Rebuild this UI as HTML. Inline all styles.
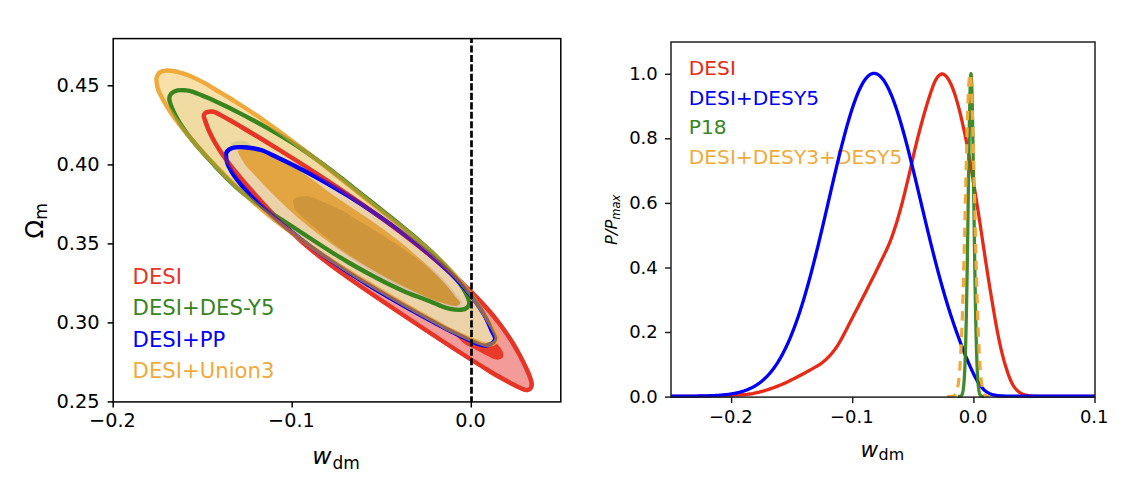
<!DOCTYPE html>
<html><head><meta charset="utf-8"><title>w_dm constraints</title>
<style>html,body{margin:0;padding:0;background:#ffffff}svg{display:block}text{font-family:'DejaVu Sans','Liberation Sans',sans-serif}</style></head><body>
<svg width="1136" height="486" viewBox="0 0 1136 486">
<rect x="0" y="0" width="1136" height="486" fill="#ffffff"/>
<defs><clipPath id="clipL"><rect x="113.2" y="38.6" width="447.6" height="363.3"/></clipPath>
<clipPath id="clipR"><rect x="671.0" y="39.0" width="424.0" height="359.6"/></clipPath></defs>
<g clip-path="url(#clipL)">
<path d="M203.80,116.00C203.86,114.83 204.38,113.72 205.30,113.00C206.22,112.28 207.68,111.82 209.30,111.70C210.92,111.58 211.63,110.92 215.00,112.30C218.37,113.68 224.99,117.47 229.54,120.00C234.08,122.53 238.07,125.00 242.28,127.50C246.50,130.00 250.70,132.50 254.86,135.00C259.02,137.50 263.15,140.00 267.25,142.50C271.35,145.00 275.42,147.50 279.46,150.00C283.49,152.50 287.50,155.00 291.48,157.50C295.46,160.00 299.40,162.50 303.32,165.00C307.23,167.50 311.11,170.00 314.96,172.50C318.81,175.00 322.63,177.50 326.42,180.00C330.20,182.50 333.95,185.00 337.67,187.50C341.39,190.00 345.08,192.50 348.73,195.00C352.39,197.50 356.01,200.00 359.59,202.50C363.18,205.00 366.73,207.50 370.25,210.00C373.77,212.50 377.25,215.00 380.70,217.50C384.15,220.00 387.56,222.50 390.94,225.00C394.32,227.50 397.66,230.00 400.97,232.50C404.28,235.00 407.55,237.50 410.79,240.00C414.02,242.50 417.22,245.00 420.38,247.50C423.54,250.00 426.66,252.50 429.73,255.00C432.81,257.50 435.84,260.00 438.82,262.50C441.80,265.00 444.73,267.50 447.60,270.00C450.48,272.50 453.31,275.00 456.07,277.50C458.83,280.00 461.54,282.50 464.19,285.00C466.83,287.50 469.41,290.00 471.93,292.50C474.44,295.00 476.89,297.50 479.27,300.00C481.64,302.50 483.95,305.00 486.18,307.50C488.41,310.00 490.56,312.50 492.64,315.00C494.71,317.50 496.70,320.00 498.62,322.50C500.54,325.00 502.38,327.50 504.15,330.00C505.92,332.50 507.62,335.00 509.25,337.50C510.88,340.00 512.44,342.50 513.95,345.00C515.45,347.50 516.88,350.00 518.26,352.50C519.64,355.00 520.95,357.50 522.22,360.00C523.48,362.50 524.69,365.00 525.85,367.50C527.01,370.00 528.21,372.42 529.17,375.00C530.13,377.58 531.33,380.83 531.60,383.00C531.87,385.17 531.48,386.83 530.80,388.00C530.12,389.17 529.13,389.95 527.50,390.00C525.87,390.05 526.27,390.80 521.00,388.30C515.73,385.80 502.09,378.47 495.88,375.00C489.66,371.53 487.73,370.00 483.71,367.50C479.70,365.00 475.73,362.50 471.79,360.00C467.84,357.50 463.94,355.00 460.06,352.50C456.17,350.00 452.32,347.50 448.49,345.00C444.65,342.50 440.84,340.00 437.04,337.50C433.24,335.00 429.46,332.50 425.68,330.00C421.90,327.50 418.13,325.00 414.37,322.50C410.61,320.00 406.85,317.50 403.10,315.00C399.35,312.50 395.61,310.00 391.88,307.50C388.14,305.00 384.42,302.50 380.71,300.00C376.99,297.50 373.28,295.00 369.61,292.50C365.93,290.00 362.27,287.50 358.65,285.00C355.03,282.50 351.44,280.00 347.90,277.50C344.37,275.00 340.88,272.50 337.45,270.00C334.03,267.50 330.66,265.00 327.37,262.50C324.09,260.00 320.87,257.50 317.74,255.00C314.61,252.50 311.57,250.00 308.61,247.50C305.64,245.00 302.77,242.50 299.95,240.00C297.14,237.50 294.41,235.00 291.73,232.50C289.05,230.00 286.45,227.50 283.89,225.00C281.33,222.50 278.84,220.00 276.39,217.50C273.93,215.00 271.53,212.50 269.17,210.00C266.80,207.50 264.49,205.00 262.19,202.50C259.90,200.00 257.65,197.50 255.41,195.00C253.18,192.50 250.96,190.00 248.78,187.50C246.60,185.00 244.43,182.50 242.32,180.00C240.20,177.50 238.12,175.00 236.10,172.50C234.07,170.00 232.09,167.50 230.18,165.00C228.27,162.50 226.41,160.00 224.63,157.50C222.86,155.00 221.15,152.50 219.53,150.00C217.92,147.50 216.38,145.00 214.95,142.50C213.51,140.00 212.17,137.50 210.94,135.00C209.71,132.50 208.58,130.00 207.58,127.50C206.58,125.00 205.57,121.92 204.94,120.00C204.31,118.08 203.74,117.17 203.80,116.00Z" fill="#F29B98"/>
<path d="M440.00,300.00C446.67,303.83 461.67,313.67 470.00,320.00C478.33,326.33 485.17,333.67 490.00,338.00C494.83,342.33 496.87,343.67 499.00,346.00C501.13,348.33 502.08,350.25 502.80,352.00C503.52,353.75 503.77,355.28 503.30,356.50C502.83,357.72 501.38,358.83 500.00,359.30C498.62,359.77 497.22,359.93 495.00,359.30C492.78,358.67 490.58,357.47 486.70,355.50C482.82,353.53 475.32,349.38 471.70,347.50C468.08,345.62 467.62,346.12 465.00,344.20C462.38,342.28 460.17,339.70 456.00,336.00C451.83,332.30 445.17,327.17 440.00,322.00C434.83,316.83 426.67,309.17 425.00,305.00C423.33,300.83 427.50,297.83 430.00,297.00C432.50,296.17 433.33,296.17 440.00,300.00Z" fill="#E8392A"/>
<path d="M156.90,84.00C156.60,82.17 156.28,80.50 156.40,79.00C156.52,77.50 156.92,76.17 157.60,75.00C158.28,73.83 159.18,72.73 160.50,72.00C161.82,71.27 163.42,70.77 165.50,70.60C167.58,70.43 170.42,70.63 173.00,71.00C175.58,71.37 178.33,72.05 181.00,72.80C183.67,73.55 186.17,74.37 189.00,75.50C191.83,76.63 195.00,78.12 198.00,79.60C201.00,81.08 203.99,82.67 207.00,84.40C210.01,86.13 212.44,87.82 216.05,90.00C219.67,92.18 224.57,95.00 228.68,97.50C232.79,100.00 236.79,102.50 240.71,105.00C244.63,107.50 248.45,110.00 252.20,112.50C255.95,115.00 259.62,117.50 263.22,120.00C266.83,122.50 270.36,125.00 273.84,127.50C277.32,130.00 280.74,132.50 284.12,135.00C287.50,137.50 290.82,140.00 294.13,142.50C297.43,145.00 300.70,147.50 303.95,150.00C307.20,152.50 310.43,155.00 313.65,157.50C316.86,160.00 320.06,162.50 323.25,165.00C326.44,167.50 329.61,170.00 332.77,172.50C335.94,175.00 339.09,177.50 342.24,180.00C345.39,182.50 348.53,185.00 351.67,187.50C354.81,190.00 357.95,192.50 361.09,195.00C364.23,197.50 367.36,200.00 370.51,202.50C373.65,205.00 376.80,207.50 379.95,210.00C383.10,212.50 386.26,215.00 389.41,217.50C392.56,220.00 395.72,222.50 398.84,225.00C401.96,227.50 405.08,230.00 408.15,232.50C411.22,235.00 414.27,237.50 417.26,240.00C420.25,242.50 423.20,245.00 426.09,247.50C428.97,250.00 431.80,252.50 434.55,255.00C437.30,257.50 439.99,260.00 442.58,262.50C445.17,265.00 447.68,267.50 450.08,270.00C452.49,272.50 454.79,275.00 457.01,277.50C459.22,280.00 461.34,282.50 463.39,285.00C465.45,287.50 467.41,290.00 469.31,292.50C471.22,295.00 473.05,297.50 474.83,300.00C476.62,302.50 478.34,305.00 480.01,307.50C481.68,310.00 483.30,312.50 484.87,315.00C486.44,317.50 487.95,320.00 489.42,322.50C490.89,325.00 492.45,327.50 493.68,330.00C494.91,332.50 496.58,335.45 496.80,337.50C497.02,339.55 496.30,341.08 495.00,342.30C493.70,343.52 491.50,344.68 489.00,344.80C486.50,344.92 486.44,345.47 480.00,343.00C473.56,340.53 457.58,333.42 450.36,330.00C443.13,326.58 441.17,325.00 436.62,322.50C432.08,320.00 427.56,317.50 423.08,315.00C418.60,312.50 414.15,310.00 409.74,307.50C405.32,305.00 400.95,302.50 396.61,300.00C392.28,297.50 387.98,295.00 383.73,292.50C379.48,290.00 375.27,287.50 371.10,285.00C366.94,282.50 362.82,280.00 358.74,277.50C354.67,275.00 350.65,272.50 346.68,270.00C342.70,267.50 338.78,265.00 334.91,262.50C331.04,260.00 327.23,257.50 323.47,255.00C319.71,252.50 316.01,250.00 312.36,247.50C308.72,245.00 305.13,242.50 301.61,240.00C298.09,237.50 294.63,235.00 291.24,232.50C287.84,230.00 284.51,227.50 281.25,225.00C277.98,222.50 274.79,220.00 271.66,217.50C268.54,215.00 265.49,212.50 262.50,210.00C259.52,207.50 256.62,205.00 253.77,202.50C250.92,200.00 248.15,197.50 245.43,195.00C242.70,192.50 240.04,190.00 237.42,187.50C234.80,185.00 232.24,182.50 229.71,180.00C227.18,177.50 224.70,175.00 222.24,172.50C219.78,170.00 217.36,167.50 214.96,165.00C212.55,162.50 210.17,160.00 207.83,157.50C205.49,155.00 203.17,152.50 200.90,150.00C198.63,147.50 196.39,145.00 194.20,142.50C192.02,140.00 189.88,137.50 187.80,135.00C185.72,132.50 183.69,130.00 181.73,127.50C179.77,125.00 177.87,122.50 176.05,120.00C174.23,117.50 172.48,115.00 170.81,112.50C169.15,110.00 167.56,107.50 166.06,105.00C164.57,102.50 163.15,100.00 161.85,97.50C160.54,95.00 159.04,92.25 158.22,90.00C157.39,87.75 157.20,85.83 156.90,84.00Z" fill="#F9DFA8"/>
<path d="M169.30,98.50C169.38,96.58 169.93,94.85 171.30,93.50C172.67,92.15 175.22,90.93 177.50,90.40C179.78,89.87 182.42,90.07 185.00,90.30C187.58,90.53 189.00,90.47 193.00,91.80C197.00,93.13 203.94,96.10 209.00,98.30C214.06,100.50 218.44,102.62 223.38,105.00C228.32,107.38 233.66,110.07 238.63,112.60C243.60,115.13 248.46,117.67 253.19,120.20C257.92,122.73 262.54,125.27 267.03,127.80C271.52,130.33 275.88,132.87 280.12,135.40C284.36,137.93 288.46,140.47 292.44,143.00C296.42,145.53 300.25,148.07 304.00,150.60C307.74,153.13 311.35,155.67 314.90,158.20C318.45,160.73 321.89,163.27 325.28,165.80C328.68,168.33 331.99,170.87 335.27,173.40C338.56,175.93 341.78,178.47 344.99,181.00C348.21,183.53 351.38,186.07 354.58,188.60C357.77,191.13 360.95,193.67 364.15,196.20C367.35,198.73 370.58,201.27 373.79,203.80C377.00,206.33 380.23,208.87 383.43,211.40C386.64,213.93 389.84,216.47 393.00,219.00C396.17,221.53 399.32,224.07 402.41,226.60C405.51,229.13 408.58,231.67 411.59,234.20C414.59,236.73 417.56,239.27 420.45,241.80C423.33,244.33 426.16,246.87 428.90,249.40C431.64,251.93 434.32,254.47 436.89,257.00C439.45,259.53 441.94,262.07 444.31,264.60C446.67,267.13 448.95,269.67 451.09,272.20C453.23,274.73 455.26,277.27 457.15,279.80C459.03,282.33 460.80,284.87 462.41,287.40C464.01,289.93 465.64,292.48 466.79,295.00C467.93,297.52 469.21,300.42 469.30,302.50C469.39,304.58 468.68,306.28 467.30,307.50C465.92,308.72 463.88,309.58 461.00,309.80C458.12,310.02 453.50,309.50 450.00,308.80C446.50,308.10 443.91,307.07 440.00,305.60C436.09,304.13 432.07,302.18 426.51,300.00C420.96,297.82 412.66,295.00 406.67,292.50C400.68,290.00 395.71,287.50 390.57,285.00C385.43,282.50 380.60,280.00 375.82,277.50C371.03,275.00 366.40,272.50 361.88,270.00C357.36,267.50 352.97,265.00 348.69,262.50C344.41,260.00 340.26,257.50 336.20,255.00C332.13,252.50 328.20,250.00 324.29,247.50C320.39,245.00 316.59,242.50 312.77,240.00C308.96,237.50 305.21,235.00 301.40,232.50C297.59,230.00 293.78,227.50 289.92,225.00C286.06,222.50 282.10,220.00 278.22,217.50C274.33,215.00 270.39,212.50 266.62,210.00C262.84,207.50 259.09,205.00 255.57,202.50C252.06,200.00 248.68,197.50 245.52,195.00C242.36,192.50 239.43,190.00 236.60,187.50C233.78,185.00 231.15,182.50 228.58,180.00C226.01,177.50 223.59,175.00 221.18,172.50C218.77,170.00 216.46,167.50 214.14,165.00C211.81,162.50 209.51,160.00 207.24,157.50C204.98,155.00 202.73,152.50 200.55,150.00C198.38,147.50 196.23,145.00 194.17,142.50C192.12,140.00 190.11,137.50 188.21,135.00C186.32,132.50 184.49,130.00 182.79,127.50C181.09,125.00 179.47,122.50 178.01,120.00C176.54,117.50 175.18,115.00 173.98,112.50C172.78,110.00 171.59,107.33 170.81,105.00C170.04,102.67 169.22,100.42 169.30,98.50Z" fill="#F0DCA2"/>
<path d="M226.30,158.50C226.00,156.53 225.70,154.72 226.20,153.20C226.70,151.68 227.83,150.37 229.30,149.40C230.77,148.43 233.13,147.78 235.00,147.40C236.87,147.02 238.50,147.08 240.50,147.10C242.50,147.12 243.57,147.02 247.00,147.50C250.43,147.98 256.01,148.33 261.10,150.00C266.18,151.67 272.20,155.00 277.51,157.50C282.83,160.00 287.96,162.50 292.96,165.00C297.97,167.50 302.81,170.00 307.53,172.50C312.25,175.00 316.83,177.50 321.29,180.00C325.76,182.50 330.10,185.00 334.34,187.50C338.58,190.00 342.70,192.50 346.74,195.00C350.78,197.50 354.72,200.00 358.59,202.50C362.46,205.00 366.24,207.50 369.96,210.00C373.69,212.50 377.34,215.00 380.93,217.50C384.52,220.00 388.05,222.50 391.52,225.00C394.98,227.50 398.38,230.00 401.72,232.50C405.06,235.00 408.34,237.50 411.56,240.00C414.78,242.50 417.94,245.00 421.04,247.50C424.13,250.00 427.16,252.50 430.11,255.00C433.07,257.50 435.95,260.00 438.76,262.50C441.56,265.00 444.30,267.50 446.94,270.00C449.58,272.50 452.15,275.00 454.62,277.50C457.09,280.00 459.48,282.50 461.77,285.00C464.05,287.50 466.25,290.00 468.34,292.50C470.43,295.00 472.43,297.50 474.31,300.00C476.19,302.50 477.98,305.00 479.64,307.50C481.30,310.00 482.86,312.50 484.30,315.00C485.73,317.50 487.05,320.00 488.24,322.50C489.43,325.00 490.31,327.50 491.44,330.00C492.56,332.50 494.66,335.45 495.00,337.50C495.34,339.55 494.67,341.05 493.50,342.30C492.33,343.55 490.42,344.67 488.00,345.00C485.58,345.33 485.59,346.80 479.00,344.30C472.41,341.80 455.90,333.63 448.47,330.00C441.04,326.37 439.05,325.00 434.41,322.50C429.76,320.00 425.16,317.50 420.61,315.00C416.06,312.50 411.56,310.00 407.11,307.50C402.66,305.00 398.25,302.50 393.91,300.00C389.57,297.50 385.27,295.00 381.04,292.50C376.81,290.00 372.64,287.50 368.52,285.00C364.41,282.50 360.36,280.00 356.38,277.50C352.39,275.00 348.47,272.50 344.62,270.00C340.77,267.50 336.98,265.00 333.27,262.50C329.56,260.00 325.92,257.50 322.35,255.00C318.78,252.50 315.29,250.00 311.88,247.50C308.46,245.00 305.12,242.50 301.84,240.00C298.57,237.50 295.37,235.00 292.24,232.50C289.10,230.00 286.04,227.50 283.04,225.00C280.05,222.50 277.12,220.00 274.26,217.50C271.40,215.00 268.60,212.50 265.87,210.00C263.14,207.50 260.46,205.00 257.88,202.50C255.30,200.00 252.79,197.50 250.39,195.00C247.99,192.50 245.67,190.00 243.50,187.50C241.33,185.00 239.26,182.50 237.37,180.00C235.48,177.50 233.71,175.00 232.15,172.50C230.59,170.00 228.98,167.33 228.01,165.00C227.03,162.67 226.60,160.47 226.30,158.50Z" fill="#EBD2A8"/>
<path d="M293.30,203.00C293.01,201.25 292.98,200.47 293.60,199.50C294.22,198.53 295.43,197.70 297.00,197.20C298.57,196.70 300.50,196.45 303.00,196.50C305.50,196.55 305.67,195.25 312.00,197.50C318.33,199.75 334.17,206.71 340.99,210.00C347.82,213.29 348.98,214.83 352.96,217.25C356.95,219.67 360.96,222.08 364.92,224.50C368.88,226.92 372.84,229.33 376.73,231.75C380.61,234.17 384.47,236.58 388.23,239.00C391.99,241.42 395.70,243.83 399.29,246.25C402.88,248.67 406.40,251.08 409.77,253.50C413.14,255.92 416.40,258.33 419.52,260.75C422.63,263.17 425.63,265.58 428.47,268.00C431.31,270.42 434.01,272.83 436.56,275.25C439.10,277.67 441.50,280.08 443.74,282.50C445.97,284.92 448.03,287.33 449.96,289.75C451.90,292.17 453.71,294.91 455.35,297.00C456.99,299.09 459.36,300.97 459.80,302.30C460.24,303.63 459.13,304.45 458.00,305.00C456.87,305.55 457.01,306.43 453.00,305.60C448.99,304.77 439.99,302.18 433.93,300.00C427.86,297.82 422.15,295.00 416.62,292.50C411.10,290.00 405.83,287.50 400.76,285.00C395.70,282.50 390.87,280.00 386.23,277.50C381.58,275.00 377.16,272.50 372.89,270.00C368.63,267.50 364.57,265.00 360.64,262.50C356.72,260.00 352.98,257.50 349.36,255.00C345.74,252.50 342.28,250.00 338.93,247.50C335.57,245.00 332.36,242.50 329.22,240.00C326.09,237.50 323.08,235.00 320.13,232.50C317.18,230.00 314.33,227.50 311.52,225.00C308.72,222.50 305.99,220.00 303.29,217.50C300.59,215.00 296.98,212.42 295.31,210.00C293.65,207.58 293.59,204.75 293.30,203.00Z" fill="#D9BFA5" stroke="#D9BFA5" stroke-width="4"/>
<path d="M238.30,153.00C237.14,150.55 238.05,150.92 238.50,150.30C238.95,149.68 239.75,149.48 241.00,149.30C242.25,149.12 242.17,148.75 246.00,149.20C249.83,149.65 258.21,150.26 263.99,152.00C269.76,153.74 275.60,157.09 280.65,159.63C285.70,162.18 290.08,164.72 294.27,167.26C298.47,169.81 302.16,172.35 305.82,174.89C309.48,177.44 312.81,179.98 316.24,182.53C319.67,185.07 322.94,187.61 326.41,190.16C329.88,192.70 333.40,195.25 337.07,197.79C340.74,200.33 344.62,202.88 348.43,205.42C352.25,207.96 356.16,210.51 359.96,213.05C363.76,215.60 367.55,218.14 371.23,220.68C374.91,223.23 378.53,225.77 382.05,228.32C385.56,230.86 388.98,233.40 392.31,235.95C395.65,238.49 398.88,241.04 402.03,243.58C405.18,246.12 408.24,248.67 411.21,251.21C414.18,253.75 417.07,256.30 419.86,258.84C422.66,261.39 425.37,263.93 427.99,266.47C430.61,269.02 433.15,271.56 435.60,274.11C438.05,276.65 440.42,279.19 442.71,281.74C444.99,284.28 447.19,286.82 449.32,289.37C451.44,291.91 453.69,294.84 455.44,297.00C457.18,299.16 459.37,300.97 459.80,302.30C460.23,303.63 459.13,304.45 458.00,305.00C456.87,305.55 457.10,306.43 453.00,305.60C448.90,304.77 439.43,302.18 433.40,300.00C427.37,297.82 422.18,295.00 416.83,292.50C411.48,290.00 406.30,287.50 401.28,285.00C396.25,282.50 391.40,280.00 386.69,277.50C381.97,275.00 377.42,272.50 373.00,270.00C368.58,267.50 364.31,265.00 360.16,262.50C356.02,260.00 352.01,257.50 348.12,255.00C344.23,252.50 340.47,250.00 336.81,247.50C333.16,245.00 329.63,242.50 326.19,240.00C322.75,237.50 319.43,235.00 316.19,232.50C312.96,230.00 309.82,227.50 306.77,225.00C303.71,222.50 300.75,220.00 297.85,217.50C294.96,215.00 292.15,212.50 289.40,210.00C286.65,207.50 283.98,205.00 281.36,202.50C278.74,200.00 276.19,197.50 273.68,195.00C271.16,192.50 268.71,190.00 266.30,187.50C263.88,185.00 261.51,182.50 259.17,180.00C256.83,177.50 254.53,175.00 252.25,172.50C249.96,170.00 247.80,168.25 245.47,165.00C243.15,161.75 239.46,155.45 238.30,153.00Z" fill="#E3A541"/>
<path d="M293.30,203.00C293.01,201.25 292.98,200.47 293.60,199.50C294.22,198.53 295.43,197.70 297.00,197.20C298.57,196.70 300.50,196.45 303.00,196.50C305.50,196.55 305.67,195.25 312.00,197.50C318.33,199.75 334.17,206.71 340.99,210.00C347.82,213.29 348.98,214.83 352.96,217.25C356.95,219.67 360.96,222.08 364.92,224.50C368.88,226.92 372.84,229.33 376.73,231.75C380.61,234.17 384.47,236.58 388.23,239.00C391.99,241.42 395.70,243.83 399.29,246.25C402.88,248.67 406.40,251.08 409.77,253.50C413.14,255.92 416.40,258.33 419.52,260.75C422.63,263.17 425.63,265.58 428.47,268.00C431.31,270.42 434.01,272.83 436.56,275.25C439.10,277.67 441.50,280.08 443.74,282.50C445.97,284.92 448.03,287.33 449.96,289.75C451.90,292.17 453.71,294.91 455.35,297.00C456.99,299.09 459.36,300.97 459.80,302.30C460.24,303.63 459.13,304.45 458.00,305.00C456.87,305.55 457.01,306.43 453.00,305.60C448.99,304.77 439.99,302.18 433.93,300.00C427.86,297.82 422.15,295.00 416.62,292.50C411.10,290.00 405.83,287.50 400.76,285.00C395.70,282.50 390.87,280.00 386.23,277.50C381.58,275.00 377.16,272.50 372.89,270.00C368.63,267.50 364.57,265.00 360.64,262.50C356.72,260.00 352.98,257.50 349.36,255.00C345.74,252.50 342.28,250.00 338.93,247.50C335.57,245.00 332.36,242.50 329.22,240.00C326.09,237.50 323.08,235.00 320.13,232.50C317.18,230.00 314.33,227.50 311.52,225.00C308.72,222.50 305.99,220.00 303.29,217.50C300.59,215.00 296.98,212.42 295.31,210.00C293.65,207.58 293.59,204.75 293.30,203.00Z" fill="#CF953B"/>
<ellipse cx="240.5" cy="145.0" rx="9.5" ry="4.2" fill="#BFC27E" fill-opacity="0.55"/>
<path d="M203.80,116.00C203.86,114.83 204.38,113.72 205.30,113.00C206.22,112.28 207.68,111.82 209.30,111.70C210.92,111.58 211.63,110.92 215.00,112.30C218.37,113.68 224.99,117.47 229.54,120.00C234.08,122.53 238.07,125.00 242.28,127.50C246.50,130.00 250.70,132.50 254.86,135.00C259.02,137.50 263.15,140.00 267.25,142.50C271.35,145.00 275.42,147.50 279.46,150.00C283.49,152.50 287.50,155.00 291.48,157.50C295.46,160.00 299.40,162.50 303.32,165.00C307.23,167.50 311.11,170.00 314.96,172.50C318.81,175.00 322.63,177.50 326.42,180.00C330.20,182.50 333.95,185.00 337.67,187.50C341.39,190.00 345.08,192.50 348.73,195.00C352.39,197.50 356.01,200.00 359.59,202.50C363.18,205.00 366.73,207.50 370.25,210.00C373.77,212.50 377.25,215.00 380.70,217.50C384.15,220.00 387.56,222.50 390.94,225.00C394.32,227.50 397.66,230.00 400.97,232.50C404.28,235.00 407.55,237.50 410.79,240.00C414.02,242.50 417.22,245.00 420.38,247.50C423.54,250.00 426.66,252.50 429.73,255.00C432.81,257.50 435.84,260.00 438.82,262.50C441.80,265.00 444.73,267.50 447.60,270.00C450.48,272.50 453.31,275.00 456.07,277.50C458.83,280.00 461.54,282.50 464.19,285.00C466.83,287.50 469.41,290.00 471.93,292.50C474.44,295.00 476.89,297.50 479.27,300.00C481.64,302.50 483.95,305.00 486.18,307.50C488.41,310.00 490.56,312.50 492.64,315.00C494.71,317.50 496.70,320.00 498.62,322.50C500.54,325.00 502.38,327.50 504.15,330.00C505.92,332.50 507.62,335.00 509.25,337.50C510.88,340.00 512.44,342.50 513.95,345.00C515.45,347.50 516.88,350.00 518.26,352.50C519.64,355.00 520.95,357.50 522.22,360.00C523.48,362.50 524.69,365.00 525.85,367.50C527.01,370.00 528.21,372.42 529.17,375.00C530.13,377.58 531.33,380.83 531.60,383.00C531.87,385.17 531.48,386.83 530.80,388.00C530.12,389.17 529.13,389.95 527.50,390.00C525.87,390.05 526.27,390.80 521.00,388.30C515.73,385.80 502.09,378.47 495.88,375.00C489.66,371.53 487.73,370.00 483.71,367.50C479.70,365.00 475.73,362.50 471.79,360.00C467.84,357.50 463.94,355.00 460.06,352.50C456.17,350.00 452.32,347.50 448.49,345.00C444.65,342.50 440.84,340.00 437.04,337.50C433.24,335.00 429.46,332.50 425.68,330.00C421.90,327.50 418.13,325.00 414.37,322.50C410.61,320.00 406.85,317.50 403.10,315.00C399.35,312.50 395.61,310.00 391.88,307.50C388.14,305.00 384.42,302.50 380.71,300.00C376.99,297.50 373.28,295.00 369.61,292.50C365.93,290.00 362.27,287.50 358.65,285.00C355.03,282.50 351.44,280.00 347.90,277.50C344.37,275.00 340.88,272.50 337.45,270.00C334.03,267.50 330.66,265.00 327.37,262.50C324.09,260.00 320.87,257.50 317.74,255.00C314.61,252.50 311.57,250.00 308.61,247.50C305.64,245.00 302.77,242.50 299.95,240.00C297.14,237.50 294.41,235.00 291.73,232.50C289.05,230.00 286.45,227.50 283.89,225.00C281.33,222.50 278.84,220.00 276.39,217.50C273.93,215.00 271.53,212.50 269.17,210.00C266.80,207.50 264.49,205.00 262.19,202.50C259.90,200.00 257.65,197.50 255.41,195.00C253.18,192.50 250.96,190.00 248.78,187.50C246.60,185.00 244.43,182.50 242.32,180.00C240.20,177.50 238.12,175.00 236.10,172.50C234.07,170.00 232.09,167.50 230.18,165.00C228.27,162.50 226.41,160.00 224.63,157.50C222.86,155.00 221.15,152.50 219.53,150.00C217.92,147.50 216.38,145.00 214.95,142.50C213.51,140.00 212.17,137.50 210.94,135.00C209.71,132.50 208.58,130.00 207.58,127.50C206.58,125.00 205.57,121.92 204.94,120.00C204.31,118.08 203.74,117.17 203.80,116.00Z" fill="none" stroke="#E63527" stroke-width="4.40" stroke-linejoin="round" stroke-opacity="1.00"/>
<path d="M169.30,98.50C169.38,96.58 169.93,94.85 171.30,93.50C172.67,92.15 175.22,90.93 177.50,90.40C179.78,89.87 182.42,90.07 185.00,90.30C187.58,90.53 189.00,90.47 193.00,91.80C197.00,93.13 203.94,96.10 209.00,98.30C214.06,100.50 218.44,102.62 223.38,105.00C228.32,107.38 233.66,110.07 238.63,112.60C243.60,115.13 248.46,117.67 253.19,120.20C257.92,122.73 262.54,125.27 267.03,127.80C271.52,130.33 275.88,132.87 280.12,135.40C284.36,137.93 288.46,140.47 292.44,143.00C296.42,145.53 300.25,148.07 304.00,150.60C307.74,153.13 311.35,155.67 314.90,158.20C318.45,160.73 321.89,163.27 325.28,165.80C328.68,168.33 331.99,170.87 335.27,173.40C338.56,175.93 341.78,178.47 344.99,181.00C348.21,183.53 351.38,186.07 354.58,188.60C357.77,191.13 360.95,193.67 364.15,196.20C367.35,198.73 370.58,201.27 373.79,203.80C377.00,206.33 380.23,208.87 383.43,211.40C386.64,213.93 389.84,216.47 393.00,219.00C396.17,221.53 399.32,224.07 402.41,226.60C405.51,229.13 408.58,231.67 411.59,234.20C414.59,236.73 417.56,239.27 420.45,241.80C423.33,244.33 426.16,246.87 428.90,249.40C431.64,251.93 434.32,254.47 436.89,257.00C439.45,259.53 441.94,262.07 444.31,264.60C446.67,267.13 448.95,269.67 451.09,272.20C453.23,274.73 455.26,277.27 457.15,279.80C459.03,282.33 460.80,284.87 462.41,287.40C464.01,289.93 465.64,292.48 466.79,295.00C467.93,297.52 469.21,300.42 469.30,302.50C469.39,304.58 468.68,306.28 467.30,307.50C465.92,308.72 463.88,309.58 461.00,309.80C458.12,310.02 453.50,309.50 450.00,308.80C446.50,308.10 443.91,307.07 440.00,305.60C436.09,304.13 432.07,302.18 426.51,300.00C420.96,297.82 412.66,295.00 406.67,292.50C400.68,290.00 395.71,287.50 390.57,285.00C385.43,282.50 380.60,280.00 375.82,277.50C371.03,275.00 366.40,272.50 361.88,270.00C357.36,267.50 352.97,265.00 348.69,262.50C344.41,260.00 340.26,257.50 336.20,255.00C332.13,252.50 328.20,250.00 324.29,247.50C320.39,245.00 316.59,242.50 312.77,240.00C308.96,237.50 305.21,235.00 301.40,232.50C297.59,230.00 293.78,227.50 289.92,225.00C286.06,222.50 282.10,220.00 278.22,217.50C274.33,215.00 270.39,212.50 266.62,210.00C262.84,207.50 259.09,205.00 255.57,202.50C252.06,200.00 248.68,197.50 245.52,195.00C242.36,192.50 239.43,190.00 236.60,187.50C233.78,185.00 231.15,182.50 228.58,180.00C226.01,177.50 223.59,175.00 221.18,172.50C218.77,170.00 216.46,167.50 214.14,165.00C211.81,162.50 209.51,160.00 207.24,157.50C204.98,155.00 202.73,152.50 200.55,150.00C198.38,147.50 196.23,145.00 194.17,142.50C192.12,140.00 190.11,137.50 188.21,135.00C186.32,132.50 184.49,130.00 182.79,127.50C181.09,125.00 179.47,122.50 178.01,120.00C176.54,117.50 175.18,115.00 173.98,112.50C172.78,110.00 171.59,107.33 170.81,105.00C170.04,102.67 169.22,100.42 169.30,98.50Z" fill="none" stroke="#38841F" stroke-width="4.40" stroke-linejoin="round" stroke-opacity="1.00"/>
<path d="M226.30,158.50C226.00,156.53 225.70,154.72 226.20,153.20C226.70,151.68 227.83,150.37 229.30,149.40C230.77,148.43 233.13,147.78 235.00,147.40C236.87,147.02 238.50,147.08 240.50,147.10C242.50,147.12 243.57,147.02 247.00,147.50C250.43,147.98 256.01,148.33 261.10,150.00C266.18,151.67 272.20,155.00 277.51,157.50C282.83,160.00 287.96,162.50 292.96,165.00C297.97,167.50 302.81,170.00 307.53,172.50C312.25,175.00 316.83,177.50 321.29,180.00C325.76,182.50 330.10,185.00 334.34,187.50C338.58,190.00 342.70,192.50 346.74,195.00C350.78,197.50 354.72,200.00 358.59,202.50C362.46,205.00 366.24,207.50 369.96,210.00C373.69,212.50 377.34,215.00 380.93,217.50C384.52,220.00 388.05,222.50 391.52,225.00C394.98,227.50 398.38,230.00 401.72,232.50C405.06,235.00 408.34,237.50 411.56,240.00C414.78,242.50 417.94,245.00 421.04,247.50C424.13,250.00 427.16,252.50 430.11,255.00C433.07,257.50 435.95,260.00 438.76,262.50C441.56,265.00 444.30,267.50 446.94,270.00C449.58,272.50 452.15,275.00 454.62,277.50C457.09,280.00 459.48,282.50 461.77,285.00C464.05,287.50 466.25,290.00 468.34,292.50C470.43,295.00 472.43,297.50 474.31,300.00C476.19,302.50 477.98,305.00 479.64,307.50C481.30,310.00 482.86,312.50 484.30,315.00C485.73,317.50 487.05,320.00 488.24,322.50C489.43,325.00 490.31,327.50 491.44,330.00C492.56,332.50 494.66,335.45 495.00,337.50C495.34,339.55 494.67,341.05 493.50,342.30C492.33,343.55 490.42,344.67 488.00,345.00C485.58,345.33 485.59,346.80 479.00,344.30C472.41,341.80 455.90,333.63 448.47,330.00C441.04,326.37 439.05,325.00 434.41,322.50C429.76,320.00 425.16,317.50 420.61,315.00C416.06,312.50 411.56,310.00 407.11,307.50C402.66,305.00 398.25,302.50 393.91,300.00C389.57,297.50 385.27,295.00 381.04,292.50C376.81,290.00 372.64,287.50 368.52,285.00C364.41,282.50 360.36,280.00 356.38,277.50C352.39,275.00 348.47,272.50 344.62,270.00C340.77,267.50 336.98,265.00 333.27,262.50C329.56,260.00 325.92,257.50 322.35,255.00C318.78,252.50 315.29,250.00 311.88,247.50C308.46,245.00 305.12,242.50 301.84,240.00C298.57,237.50 295.37,235.00 292.24,232.50C289.10,230.00 286.04,227.50 283.04,225.00C280.05,222.50 277.12,220.00 274.26,217.50C271.40,215.00 268.60,212.50 265.87,210.00C263.14,207.50 260.46,205.00 257.88,202.50C255.30,200.00 252.79,197.50 250.39,195.00C247.99,192.50 245.67,190.00 243.50,187.50C241.33,185.00 239.26,182.50 237.37,180.00C235.48,177.50 233.71,175.00 232.15,172.50C230.59,170.00 228.98,167.33 228.01,165.00C227.03,162.67 226.60,160.47 226.30,158.50Z" fill="none" stroke="#0000F8" stroke-width="4.40" stroke-linejoin="round" stroke-opacity="1.00"/>
<path d="M203.80,116.00C203.86,114.83 204.38,113.72 205.30,113.00C206.22,112.28 207.68,111.82 209.30,111.70C210.92,111.58 211.63,110.92 215.00,112.30C218.37,113.68 224.99,117.47 229.54,120.00C234.08,122.53 238.07,125.00 242.28,127.50C246.50,130.00 250.70,132.50 254.86,135.00C259.02,137.50 263.15,140.00 267.25,142.50C271.35,145.00 275.42,147.50 279.46,150.00C283.49,152.50 287.50,155.00 291.48,157.50C295.46,160.00 299.40,162.50 303.32,165.00C307.23,167.50 311.11,170.00 314.96,172.50C318.81,175.00 322.63,177.50 326.42,180.00C330.20,182.50 333.95,185.00 337.67,187.50C341.39,190.00 345.08,192.50 348.73,195.00C352.39,197.50 356.01,200.00 359.59,202.50C363.18,205.00 366.73,207.50 370.25,210.00C373.77,212.50 377.25,215.00 380.70,217.50C384.15,220.00 387.56,222.50 390.94,225.00C394.32,227.50 397.66,230.00 400.97,232.50C404.28,235.00 407.55,237.50 410.79,240.00C414.02,242.50 417.22,245.00 420.38,247.50C423.54,250.00 426.66,252.50 429.73,255.00C432.81,257.50 435.84,260.00 438.82,262.50C441.80,265.00 444.73,267.50 447.60,270.00C450.48,272.50 453.31,275.00 456.07,277.50C458.83,280.00 461.54,282.50 464.19,285.00C466.83,287.50 469.41,290.00 471.93,292.50C474.44,295.00 476.89,297.50 479.27,300.00C481.64,302.50 483.95,305.00 486.18,307.50C488.41,310.00 490.56,312.50 492.64,315.00C494.71,317.50 496.70,320.00 498.62,322.50C500.54,325.00 502.38,327.50 504.15,330.00C505.92,332.50 507.62,335.00 509.25,337.50C510.88,340.00 512.44,342.50 513.95,345.00C515.45,347.50 516.88,350.00 518.26,352.50C519.64,355.00 520.95,357.50 522.22,360.00C523.48,362.50 524.69,365.00 525.85,367.50C527.01,370.00 528.21,372.42 529.17,375.00C530.13,377.58 531.33,380.83 531.60,383.00C531.87,385.17 531.48,386.83 530.80,388.00C530.12,389.17 529.13,389.95 527.50,390.00C525.87,390.05 526.27,390.80 521.00,388.30C515.73,385.80 502.09,378.47 495.88,375.00C489.66,371.53 487.73,370.00 483.71,367.50C479.70,365.00 475.73,362.50 471.79,360.00C467.84,357.50 463.94,355.00 460.06,352.50C456.17,350.00 452.32,347.50 448.49,345.00C444.65,342.50 440.84,340.00 437.04,337.50C433.24,335.00 429.46,332.50 425.68,330.00C421.90,327.50 418.13,325.00 414.37,322.50C410.61,320.00 406.85,317.50 403.10,315.00C399.35,312.50 395.61,310.00 391.88,307.50C388.14,305.00 384.42,302.50 380.71,300.00C376.99,297.50 373.28,295.00 369.61,292.50C365.93,290.00 362.27,287.50 358.65,285.00C355.03,282.50 351.44,280.00 347.90,277.50C344.37,275.00 340.88,272.50 337.45,270.00C334.03,267.50 330.66,265.00 327.37,262.50C324.09,260.00 320.87,257.50 317.74,255.00C314.61,252.50 311.57,250.00 308.61,247.50C305.64,245.00 302.77,242.50 299.95,240.00C297.14,237.50 294.41,235.00 291.73,232.50C289.05,230.00 286.45,227.50 283.89,225.00C281.33,222.50 278.84,220.00 276.39,217.50C273.93,215.00 271.53,212.50 269.17,210.00C266.80,207.50 264.49,205.00 262.19,202.50C259.90,200.00 257.65,197.50 255.41,195.00C253.18,192.50 250.96,190.00 248.78,187.50C246.60,185.00 244.43,182.50 242.32,180.00C240.20,177.50 238.12,175.00 236.10,172.50C234.07,170.00 232.09,167.50 230.18,165.00C228.27,162.50 226.41,160.00 224.63,157.50C222.86,155.00 221.15,152.50 219.53,150.00C217.92,147.50 216.38,145.00 214.95,142.50C213.51,140.00 212.17,137.50 210.94,135.00C209.71,132.50 208.58,130.00 207.58,127.50C206.58,125.00 205.57,121.92 204.94,120.00C204.31,118.08 203.74,117.17 203.80,116.00Z" fill="none" stroke="#E63527" stroke-width="4.40" stroke-linejoin="round" stroke-opacity="0.40"/>
<path d="M156.90,84.00C156.60,82.17 156.28,80.50 156.40,79.00C156.52,77.50 156.92,76.17 157.60,75.00C158.28,73.83 159.18,72.73 160.50,72.00C161.82,71.27 163.42,70.77 165.50,70.60C167.58,70.43 170.42,70.63 173.00,71.00C175.58,71.37 178.33,72.05 181.00,72.80C183.67,73.55 186.17,74.37 189.00,75.50C191.83,76.63 195.00,78.12 198.00,79.60C201.00,81.08 203.99,82.67 207.00,84.40C210.01,86.13 212.44,87.82 216.05,90.00C219.67,92.18 224.57,95.00 228.68,97.50C232.79,100.00 236.79,102.50 240.71,105.00C244.63,107.50 248.45,110.00 252.20,112.50C255.95,115.00 259.62,117.50 263.22,120.00C266.83,122.50 270.36,125.00 273.84,127.50C277.32,130.00 280.74,132.50 284.12,135.00C287.50,137.50 290.82,140.00 294.13,142.50C297.43,145.00 300.70,147.50 303.95,150.00C307.20,152.50 310.43,155.00 313.65,157.50C316.86,160.00 320.06,162.50 323.25,165.00C326.44,167.50 329.61,170.00 332.77,172.50C335.94,175.00 339.09,177.50 342.24,180.00C345.39,182.50 348.53,185.00 351.67,187.50C354.81,190.00 357.95,192.50 361.09,195.00C364.23,197.50 367.36,200.00 370.51,202.50C373.65,205.00 376.80,207.50 379.95,210.00C383.10,212.50 386.26,215.00 389.41,217.50C392.56,220.00 395.72,222.50 398.84,225.00C401.96,227.50 405.08,230.00 408.15,232.50C411.22,235.00 414.27,237.50 417.26,240.00C420.25,242.50 423.20,245.00 426.09,247.50C428.97,250.00 431.80,252.50 434.55,255.00C437.30,257.50 439.99,260.00 442.58,262.50C445.17,265.00 447.68,267.50 450.08,270.00C452.49,272.50 454.79,275.00 457.01,277.50C459.22,280.00 461.34,282.50 463.39,285.00C465.45,287.50 467.41,290.00 469.31,292.50C471.22,295.00 473.05,297.50 474.83,300.00C476.62,302.50 478.34,305.00 480.01,307.50C481.68,310.00 483.30,312.50 484.87,315.00C486.44,317.50 487.95,320.00 489.42,322.50C490.89,325.00 492.45,327.50 493.68,330.00C494.91,332.50 496.58,335.45 496.80,337.50C497.02,339.55 496.30,341.08 495.00,342.30C493.70,343.52 491.50,344.68 489.00,344.80C486.50,344.92 486.44,345.47 480.00,343.00C473.56,340.53 457.58,333.42 450.36,330.00C443.13,326.58 441.17,325.00 436.62,322.50C432.08,320.00 427.56,317.50 423.08,315.00C418.60,312.50 414.15,310.00 409.74,307.50C405.32,305.00 400.95,302.50 396.61,300.00C392.28,297.50 387.98,295.00 383.73,292.50C379.48,290.00 375.27,287.50 371.10,285.00C366.94,282.50 362.82,280.00 358.74,277.50C354.67,275.00 350.65,272.50 346.68,270.00C342.70,267.50 338.78,265.00 334.91,262.50C331.04,260.00 327.23,257.50 323.47,255.00C319.71,252.50 316.01,250.00 312.36,247.50C308.72,245.00 305.13,242.50 301.61,240.00C298.09,237.50 294.63,235.00 291.24,232.50C287.84,230.00 284.51,227.50 281.25,225.00C277.98,222.50 274.79,220.00 271.66,217.50C268.54,215.00 265.49,212.50 262.50,210.00C259.52,207.50 256.62,205.00 253.77,202.50C250.92,200.00 248.15,197.50 245.43,195.00C242.70,192.50 240.04,190.00 237.42,187.50C234.80,185.00 232.24,182.50 229.71,180.00C227.18,177.50 224.70,175.00 222.24,172.50C219.78,170.00 217.36,167.50 214.96,165.00C212.55,162.50 210.17,160.00 207.83,157.50C205.49,155.00 203.17,152.50 200.90,150.00C198.63,147.50 196.39,145.00 194.20,142.50C192.02,140.00 189.88,137.50 187.80,135.00C185.72,132.50 183.69,130.00 181.73,127.50C179.77,125.00 177.87,122.50 176.05,120.00C174.23,117.50 172.48,115.00 170.81,112.50C169.15,110.00 167.56,107.50 166.06,105.00C164.57,102.50 163.15,100.00 161.85,97.50C160.54,95.00 159.04,92.25 158.22,90.00C157.39,87.75 157.20,85.83 156.90,84.00Z" fill="none" stroke="#F0AA3C" stroke-width="4.40" stroke-linejoin="round" stroke-opacity="1.00"/>
<mask id="mO" maskUnits="userSpaceOnUse" x="100" y="30" width="480" height="380"><path d="M156.90,84.00C156.60,82.17 156.28,80.50 156.40,79.00C156.52,77.50 156.92,76.17 157.60,75.00C158.28,73.83 159.18,72.73 160.50,72.00C161.82,71.27 163.42,70.77 165.50,70.60C167.58,70.43 170.42,70.63 173.00,71.00C175.58,71.37 178.33,72.05 181.00,72.80C183.67,73.55 186.17,74.37 189.00,75.50C191.83,76.63 195.00,78.12 198.00,79.60C201.00,81.08 203.99,82.67 207.00,84.40C210.01,86.13 212.44,87.82 216.05,90.00C219.67,92.18 224.57,95.00 228.68,97.50C232.79,100.00 236.79,102.50 240.71,105.00C244.63,107.50 248.45,110.00 252.20,112.50C255.95,115.00 259.62,117.50 263.22,120.00C266.83,122.50 270.36,125.00 273.84,127.50C277.32,130.00 280.74,132.50 284.12,135.00C287.50,137.50 290.82,140.00 294.13,142.50C297.43,145.00 300.70,147.50 303.95,150.00C307.20,152.50 310.43,155.00 313.65,157.50C316.86,160.00 320.06,162.50 323.25,165.00C326.44,167.50 329.61,170.00 332.77,172.50C335.94,175.00 339.09,177.50 342.24,180.00C345.39,182.50 348.53,185.00 351.67,187.50C354.81,190.00 357.95,192.50 361.09,195.00C364.23,197.50 367.36,200.00 370.51,202.50C373.65,205.00 376.80,207.50 379.95,210.00C383.10,212.50 386.26,215.00 389.41,217.50C392.56,220.00 395.72,222.50 398.84,225.00C401.96,227.50 405.08,230.00 408.15,232.50C411.22,235.00 414.27,237.50 417.26,240.00C420.25,242.50 423.20,245.00 426.09,247.50C428.97,250.00 431.80,252.50 434.55,255.00C437.30,257.50 439.99,260.00 442.58,262.50C445.17,265.00 447.68,267.50 450.08,270.00C452.49,272.50 454.79,275.00 457.01,277.50C459.22,280.00 461.34,282.50 463.39,285.00C465.45,287.50 467.41,290.00 469.31,292.50C471.22,295.00 473.05,297.50 474.83,300.00C476.62,302.50 478.34,305.00 480.01,307.50C481.68,310.00 483.30,312.50 484.87,315.00C486.44,317.50 487.95,320.00 489.42,322.50C490.89,325.00 492.45,327.50 493.68,330.00C494.91,332.50 496.58,335.45 496.80,337.50C497.02,339.55 496.30,341.08 495.00,342.30C493.70,343.52 491.50,344.68 489.00,344.80C486.50,344.92 486.44,345.47 480.00,343.00C473.56,340.53 457.58,333.42 450.36,330.00C443.13,326.58 441.17,325.00 436.62,322.50C432.08,320.00 427.56,317.50 423.08,315.00C418.60,312.50 414.15,310.00 409.74,307.50C405.32,305.00 400.95,302.50 396.61,300.00C392.28,297.50 387.98,295.00 383.73,292.50C379.48,290.00 375.27,287.50 371.10,285.00C366.94,282.50 362.82,280.00 358.74,277.50C354.67,275.00 350.65,272.50 346.68,270.00C342.70,267.50 338.78,265.00 334.91,262.50C331.04,260.00 327.23,257.50 323.47,255.00C319.71,252.50 316.01,250.00 312.36,247.50C308.72,245.00 305.13,242.50 301.61,240.00C298.09,237.50 294.63,235.00 291.24,232.50C287.84,230.00 284.51,227.50 281.25,225.00C277.98,222.50 274.79,220.00 271.66,217.50C268.54,215.00 265.49,212.50 262.50,210.00C259.52,207.50 256.62,205.00 253.77,202.50C250.92,200.00 248.15,197.50 245.43,195.00C242.70,192.50 240.04,190.00 237.42,187.50C234.80,185.00 232.24,182.50 229.71,180.00C227.18,177.50 224.70,175.00 222.24,172.50C219.78,170.00 217.36,167.50 214.96,165.00C212.55,162.50 210.17,160.00 207.83,157.50C205.49,155.00 203.17,152.50 200.90,150.00C198.63,147.50 196.39,145.00 194.20,142.50C192.02,140.00 189.88,137.50 187.80,135.00C185.72,132.50 183.69,130.00 181.73,127.50C179.77,125.00 177.87,122.50 176.05,120.00C174.23,117.50 172.48,115.00 170.81,112.50C169.15,110.00 167.56,107.50 166.06,105.00C164.57,102.50 163.15,100.00 161.85,97.50C160.54,95.00 159.04,92.25 158.22,90.00C157.39,87.75 157.20,85.83 156.90,84.00Z" fill="none" stroke="#fff" stroke-width="4.40" stroke-linejoin="round"/></mask>
<g mask="url(#mO)">
<path d="M169.30,98.50C169.38,96.58 169.93,94.85 171.30,93.50C172.67,92.15 175.22,90.93 177.50,90.40C179.78,89.87 182.42,90.07 185.00,90.30C187.58,90.53 189.00,90.47 193.00,91.80C197.00,93.13 203.94,96.10 209.00,98.30C214.06,100.50 218.44,102.62 223.38,105.00C228.32,107.38 233.66,110.07 238.63,112.60C243.60,115.13 248.46,117.67 253.19,120.20C257.92,122.73 262.54,125.27 267.03,127.80C271.52,130.33 275.88,132.87 280.12,135.40C284.36,137.93 288.46,140.47 292.44,143.00C296.42,145.53 300.25,148.07 304.00,150.60C307.74,153.13 311.35,155.67 314.90,158.20C318.45,160.73 321.89,163.27 325.28,165.80C328.68,168.33 331.99,170.87 335.27,173.40C338.56,175.93 341.78,178.47 344.99,181.00C348.21,183.53 351.38,186.07 354.58,188.60C357.77,191.13 360.95,193.67 364.15,196.20C367.35,198.73 370.58,201.27 373.79,203.80C377.00,206.33 380.23,208.87 383.43,211.40C386.64,213.93 389.84,216.47 393.00,219.00C396.17,221.53 399.32,224.07 402.41,226.60C405.51,229.13 408.58,231.67 411.59,234.20C414.59,236.73 417.56,239.27 420.45,241.80C423.33,244.33 426.16,246.87 428.90,249.40C431.64,251.93 434.32,254.47 436.89,257.00C439.45,259.53 441.94,262.07 444.31,264.60C446.67,267.13 448.95,269.67 451.09,272.20C453.23,274.73 455.26,277.27 457.15,279.80C459.03,282.33 460.80,284.87 462.41,287.40C464.01,289.93 465.64,292.48 466.79,295.00C467.93,297.52 469.21,300.42 469.30,302.50C469.39,304.58 468.68,306.28 467.30,307.50C465.92,308.72 463.88,309.58 461.00,309.80C458.12,310.02 453.50,309.50 450.00,308.80C446.50,308.10 443.91,307.07 440.00,305.60C436.09,304.13 432.07,302.18 426.51,300.00C420.96,297.82 412.66,295.00 406.67,292.50C400.68,290.00 395.71,287.50 390.57,285.00C385.43,282.50 380.60,280.00 375.82,277.50C371.03,275.00 366.40,272.50 361.88,270.00C357.36,267.50 352.97,265.00 348.69,262.50C344.41,260.00 340.26,257.50 336.20,255.00C332.13,252.50 328.20,250.00 324.29,247.50C320.39,245.00 316.59,242.50 312.77,240.00C308.96,237.50 305.21,235.00 301.40,232.50C297.59,230.00 293.78,227.50 289.92,225.00C286.06,222.50 282.10,220.00 278.22,217.50C274.33,215.00 270.39,212.50 266.62,210.00C262.84,207.50 259.09,205.00 255.57,202.50C252.06,200.00 248.68,197.50 245.52,195.00C242.36,192.50 239.43,190.00 236.60,187.50C233.78,185.00 231.15,182.50 228.58,180.00C226.01,177.50 223.59,175.00 221.18,172.50C218.77,170.00 216.46,167.50 214.14,165.00C211.81,162.50 209.51,160.00 207.24,157.50C204.98,155.00 202.73,152.50 200.55,150.00C198.38,147.50 196.23,145.00 194.17,142.50C192.12,140.00 190.11,137.50 188.21,135.00C186.32,132.50 184.49,130.00 182.79,127.50C181.09,125.00 179.47,122.50 178.01,120.00C176.54,117.50 175.18,115.00 173.98,112.50C172.78,110.00 171.59,107.33 170.81,105.00C170.04,102.67 169.22,100.42 169.30,98.50Z" fill="none" stroke="#38841F" stroke-width="4.40" stroke-linejoin="round" stroke-opacity="0.45"/>
<path d="M226.30,158.50C226.00,156.53 225.70,154.72 226.20,153.20C226.70,151.68 227.83,150.37 229.30,149.40C230.77,148.43 233.13,147.78 235.00,147.40C236.87,147.02 238.50,147.08 240.50,147.10C242.50,147.12 243.57,147.02 247.00,147.50C250.43,147.98 256.01,148.33 261.10,150.00C266.18,151.67 272.20,155.00 277.51,157.50C282.83,160.00 287.96,162.50 292.96,165.00C297.97,167.50 302.81,170.00 307.53,172.50C312.25,175.00 316.83,177.50 321.29,180.00C325.76,182.50 330.10,185.00 334.34,187.50C338.58,190.00 342.70,192.50 346.74,195.00C350.78,197.50 354.72,200.00 358.59,202.50C362.46,205.00 366.24,207.50 369.96,210.00C373.69,212.50 377.34,215.00 380.93,217.50C384.52,220.00 388.05,222.50 391.52,225.00C394.98,227.50 398.38,230.00 401.72,232.50C405.06,235.00 408.34,237.50 411.56,240.00C414.78,242.50 417.94,245.00 421.04,247.50C424.13,250.00 427.16,252.50 430.11,255.00C433.07,257.50 435.95,260.00 438.76,262.50C441.56,265.00 444.30,267.50 446.94,270.00C449.58,272.50 452.15,275.00 454.62,277.50C457.09,280.00 459.48,282.50 461.77,285.00C464.05,287.50 466.25,290.00 468.34,292.50C470.43,295.00 472.43,297.50 474.31,300.00C476.19,302.50 477.98,305.00 479.64,307.50C481.30,310.00 482.86,312.50 484.30,315.00C485.73,317.50 487.05,320.00 488.24,322.50C489.43,325.00 490.31,327.50 491.44,330.00C492.56,332.50 494.66,335.45 495.00,337.50C495.34,339.55 494.67,341.05 493.50,342.30C492.33,343.55 490.42,344.67 488.00,345.00C485.58,345.33 485.59,346.80 479.00,344.30C472.41,341.80 455.90,333.63 448.47,330.00C441.04,326.37 439.05,325.00 434.41,322.50C429.76,320.00 425.16,317.50 420.61,315.00C416.06,312.50 411.56,310.00 407.11,307.50C402.66,305.00 398.25,302.50 393.91,300.00C389.57,297.50 385.27,295.00 381.04,292.50C376.81,290.00 372.64,287.50 368.52,285.00C364.41,282.50 360.36,280.00 356.38,277.50C352.39,275.00 348.47,272.50 344.62,270.00C340.77,267.50 336.98,265.00 333.27,262.50C329.56,260.00 325.92,257.50 322.35,255.00C318.78,252.50 315.29,250.00 311.88,247.50C308.46,245.00 305.12,242.50 301.84,240.00C298.57,237.50 295.37,235.00 292.24,232.50C289.10,230.00 286.04,227.50 283.04,225.00C280.05,222.50 277.12,220.00 274.26,217.50C271.40,215.00 268.60,212.50 265.87,210.00C263.14,207.50 260.46,205.00 257.88,202.50C255.30,200.00 252.79,197.50 250.39,195.00C247.99,192.50 245.67,190.00 243.50,187.50C241.33,185.00 239.26,182.50 237.37,180.00C235.48,177.50 233.71,175.00 232.15,172.50C230.59,170.00 228.98,167.33 228.01,165.00C227.03,162.67 226.60,160.47 226.30,158.50Z" fill="none" stroke="#00008C" stroke-width="4.40" stroke-linejoin="round" stroke-opacity="0.40"/>
<path d="M203.80,116.00C203.86,114.83 204.38,113.72 205.30,113.00C206.22,112.28 207.68,111.82 209.30,111.70C210.92,111.58 211.63,110.92 215.00,112.30C218.37,113.68 224.99,117.47 229.54,120.00C234.08,122.53 238.07,125.00 242.28,127.50C246.50,130.00 250.70,132.50 254.86,135.00C259.02,137.50 263.15,140.00 267.25,142.50C271.35,145.00 275.42,147.50 279.46,150.00C283.49,152.50 287.50,155.00 291.48,157.50C295.46,160.00 299.40,162.50 303.32,165.00C307.23,167.50 311.11,170.00 314.96,172.50C318.81,175.00 322.63,177.50 326.42,180.00C330.20,182.50 333.95,185.00 337.67,187.50C341.39,190.00 345.08,192.50 348.73,195.00C352.39,197.50 356.01,200.00 359.59,202.50C363.18,205.00 366.73,207.50 370.25,210.00C373.77,212.50 377.25,215.00 380.70,217.50C384.15,220.00 387.56,222.50 390.94,225.00C394.32,227.50 397.66,230.00 400.97,232.50C404.28,235.00 407.55,237.50 410.79,240.00C414.02,242.50 417.22,245.00 420.38,247.50C423.54,250.00 426.66,252.50 429.73,255.00C432.81,257.50 435.84,260.00 438.82,262.50C441.80,265.00 444.73,267.50 447.60,270.00C450.48,272.50 453.31,275.00 456.07,277.50C458.83,280.00 461.54,282.50 464.19,285.00C466.83,287.50 469.41,290.00 471.93,292.50C474.44,295.00 476.89,297.50 479.27,300.00C481.64,302.50 483.95,305.00 486.18,307.50C488.41,310.00 490.56,312.50 492.64,315.00C494.71,317.50 496.70,320.00 498.62,322.50C500.54,325.00 502.38,327.50 504.15,330.00C505.92,332.50 507.62,335.00 509.25,337.50C510.88,340.00 512.44,342.50 513.95,345.00C515.45,347.50 516.88,350.00 518.26,352.50C519.64,355.00 520.95,357.50 522.22,360.00C523.48,362.50 524.69,365.00 525.85,367.50C527.01,370.00 528.21,372.42 529.17,375.00C530.13,377.58 531.33,380.83 531.60,383.00C531.87,385.17 531.48,386.83 530.80,388.00C530.12,389.17 529.13,389.95 527.50,390.00C525.87,390.05 526.27,390.80 521.00,388.30C515.73,385.80 502.09,378.47 495.88,375.00C489.66,371.53 487.73,370.00 483.71,367.50C479.70,365.00 475.73,362.50 471.79,360.00C467.84,357.50 463.94,355.00 460.06,352.50C456.17,350.00 452.32,347.50 448.49,345.00C444.65,342.50 440.84,340.00 437.04,337.50C433.24,335.00 429.46,332.50 425.68,330.00C421.90,327.50 418.13,325.00 414.37,322.50C410.61,320.00 406.85,317.50 403.10,315.00C399.35,312.50 395.61,310.00 391.88,307.50C388.14,305.00 384.42,302.50 380.71,300.00C376.99,297.50 373.28,295.00 369.61,292.50C365.93,290.00 362.27,287.50 358.65,285.00C355.03,282.50 351.44,280.00 347.90,277.50C344.37,275.00 340.88,272.50 337.45,270.00C334.03,267.50 330.66,265.00 327.37,262.50C324.09,260.00 320.87,257.50 317.74,255.00C314.61,252.50 311.57,250.00 308.61,247.50C305.64,245.00 302.77,242.50 299.95,240.00C297.14,237.50 294.41,235.00 291.73,232.50C289.05,230.00 286.45,227.50 283.89,225.00C281.33,222.50 278.84,220.00 276.39,217.50C273.93,215.00 271.53,212.50 269.17,210.00C266.80,207.50 264.49,205.00 262.19,202.50C259.90,200.00 257.65,197.50 255.41,195.00C253.18,192.50 250.96,190.00 248.78,187.50C246.60,185.00 244.43,182.50 242.32,180.00C240.20,177.50 238.12,175.00 236.10,172.50C234.07,170.00 232.09,167.50 230.18,165.00C228.27,162.50 226.41,160.00 224.63,157.50C222.86,155.00 221.15,152.50 219.53,150.00C217.92,147.50 216.38,145.00 214.95,142.50C213.51,140.00 212.17,137.50 210.94,135.00C209.71,132.50 208.58,130.00 207.58,127.50C206.58,125.00 205.57,121.92 204.94,120.00C204.31,118.08 203.74,117.17 203.80,116.00Z" fill="none" stroke="#E63527" stroke-width="4.40" stroke-linejoin="round" stroke-opacity="0.22"/>
</g>
</g>
<line x1="471.5" y1="38.6" x2="471.5" y2="401.9" stroke="#000" stroke-width="2.7" stroke-dasharray="7.1 2.38" stroke-dashoffset="2.68"/>
<rect x="113.2" y="38.6" width="447.6" height="363.3" fill="none" stroke="#000" stroke-width="1.5"/>
<line x1="113.2" y1="401.9" x2="113.2" y2="407.5" stroke="#000" stroke-width="1.5"/>
<text x="112.4" y="427.3" font-size="19.2" text-anchor="middle">−0.2</text>
<line x1="292.2" y1="401.9" x2="292.2" y2="407.5" stroke="#000" stroke-width="1.5"/>
<text x="291.4" y="427.3" font-size="19.2" text-anchor="middle">−0.1</text>
<line x1="471.3" y1="401.9" x2="471.3" y2="407.5" stroke="#000" stroke-width="1.5"/>
<text x="470.5" y="427.3" font-size="19.2" text-anchor="middle">0.0</text>
<line x1="107.6" y1="401.9" x2="113.2" y2="401.9" stroke="#000" stroke-width="1.5"/>
<text x="99.7" y="408.2" font-size="19.4" text-anchor="end">0.25</text>
<line x1="107.6" y1="322.9" x2="113.2" y2="322.9" stroke="#000" stroke-width="1.5"/>
<text x="99.7" y="329.2" font-size="19.4" text-anchor="end">0.30</text>
<line x1="107.6" y1="243.9" x2="113.2" y2="243.9" stroke="#000" stroke-width="1.5"/>
<text x="99.7" y="250.2" font-size="19.4" text-anchor="end">0.35</text>
<line x1="107.6" y1="164.9" x2="113.2" y2="164.9" stroke="#000" stroke-width="1.5"/>
<text x="99.7" y="171.2" font-size="19.4" text-anchor="end">0.40</text>
<line x1="107.6" y1="85.8" x2="113.2" y2="85.8" stroke="#000" stroke-width="1.5"/>
<text x="99.7" y="92.1" font-size="19.4" text-anchor="end">0.45</text>
<text x="312.3" y="464.1" font-size="23.6"><tspan font-style="italic">w</tspan></text><text x="332.5" y="468.6" font-size="17.0">dm</text>
<text transform="translate(42.7,238.6) rotate(-90)" font-size="24.5">Ω<tspan font-size="17.2" dy="4.1">m</tspan></text>
<text x="132.6" y="283.8" font-size="21.2" fill="#E63527">DESI</text>
<text x="132.6" y="315.2" font-size="21.2" fill="#38841F">DESI+DES-Y5</text>
<text x="132.6" y="346.6" font-size="21.2" fill="#0000F8">DESI+PP</text>
<text x="132.6" y="378.0" font-size="21.2" fill="#F0AA3C">DESI+Union3</text>
<text x="688.8" y="75.1" font-size="20.2" fill="#E62A16">DESI</text>
<text x="688.8" y="104.6" font-size="20.2" fill="#0000F8">DESI+DESY5</text>
<text x="688.8" y="134.1" font-size="20.2" fill="#38841F">P18</text>
<text x="688.8" y="163.6" font-size="20.2" fill="#F0AA3C">DESI+DESY3+DESY5</text>
<g clip-path="url(#clipR)" fill="none" stroke-linejoin="round" stroke-linecap="butt">
<path d="M671.00,396.40L672.39,396.39L674.13,396.39L676.16,396.38L678.44,396.37L680.93,396.37L683.56,396.36L686.31,396.34L689.11,396.33L691.93,396.30L694.72,396.28L697.42,396.24L700.00,396.20L702.55,396.15L705.19,396.10L707.89,396.03L710.63,395.97L713.38,395.89L716.12,395.82L718.83,395.74L721.48,395.66L724.05,395.57L726.50,395.48L728.83,395.39L731.00,395.30L733.01,395.21L734.89,395.14L736.65,395.07L738.31,395.00L739.88,394.92L741.39,394.84L742.85,394.75L744.28,394.65L745.69,394.52L747.11,394.38L748.54,394.20L750.00,394.00L751.47,393.77L752.92,393.52L754.34,393.24L755.74,392.95L757.13,392.64L758.50,392.31L759.87,391.96L761.23,391.60L762.59,391.22L763.95,390.83L765.32,390.42L766.70,390.00L768.09,389.57L769.47,389.12L770.85,388.65L772.24,388.17L773.62,387.68L775.00,387.17L776.38,386.64L777.76,386.10L779.15,385.55L780.53,384.98L781.91,384.40L783.30,383.80L784.69,383.18L786.08,382.55L787.47,381.89L788.86,381.22L790.25,380.54L791.64,379.84L793.04,379.13L794.43,378.41L795.82,377.69L797.22,376.96L798.61,376.23L800.00,375.50L801.42,374.75L802.89,373.98L804.38,373.18L805.90,372.36L807.41,371.54L808.91,370.73L810.37,369.92L811.79,369.13L813.15,368.36L814.43,367.63L815.62,366.94L816.70,366.30L817.66,365.72L818.51,365.20L819.27,364.73L819.95,364.30L820.57,363.89L821.14,363.49L821.69,363.10L822.21,362.70L822.74,362.29L823.29,361.84L823.87,361.34L824.50,360.80L825.16,360.21L825.83,359.61L826.50,358.99L827.17,358.34L827.84,357.68L828.52,356.99L829.19,356.29L829.86,355.57L830.53,354.83L831.19,354.07L831.85,353.30L832.50,352.50L833.12,351.72L833.71,350.99L834.27,350.28L834.82,349.57L835.37,348.84L835.92,348.07L836.49,347.25L837.09,346.34L837.73,345.33L838.42,344.20L839.17,342.93L840.00,341.50L840.90,339.88L841.88,338.09L842.91,336.16L844.00,334.09L845.13,331.93L846.28,329.69L847.46,327.39L848.64,325.07L849.83,322.75L851.01,320.45L852.17,318.19L853.30,316.00L854.41,313.85L855.53,311.70L856.65,309.55L857.76,307.40L858.88,305.24L860.00,303.07L861.12,300.91L862.24,298.74L863.35,296.56L864.47,294.38L865.59,292.19L866.70,290.00L867.82,287.79L868.95,285.55L870.09,283.29L871.24,281.03L872.38,278.75L873.52,276.48L874.65,274.22L875.76,271.97L876.86,269.75L877.93,267.56L878.98,265.41L880.00,263.30L880.99,261.26L881.95,259.29L882.89,257.37L883.81,255.49L884.71,253.64L885.60,251.79L886.47,249.94L887.33,248.06L888.18,246.15L889.03,244.17L889.87,242.13L890.70,240.00L891.53,237.80L892.34,235.54L893.15,233.24L893.94,230.90L894.72,228.52L895.50,226.11L896.27,223.66L897.03,221.17L897.78,218.66L898.52,216.13L899.26,213.57L900.00,211.00L900.73,208.40L901.44,205.77L902.14,203.10L902.84,200.41L903.52,197.69L904.21,194.94L904.89,192.17L905.56,189.37L906.24,186.55L906.92,183.72L907.61,180.87L908.30,178.00L909.00,175.09L909.70,172.12L910.40,169.09L911.10,166.04L911.80,162.96L912.50,159.88L913.20,156.80L913.90,153.74L914.60,150.72L915.30,147.75L916.00,144.83L916.70,142.00L917.40,139.22L918.10,136.46L918.80,133.72L919.50,131.02L920.21,128.35L920.91,125.72L921.60,123.13L922.30,120.59L922.98,118.11L923.66,115.67L924.34,113.30L925.00,111.00L925.66,108.74L926.33,106.49L927.00,104.28L927.66,102.11L928.32,99.99L928.98,97.93L929.61,95.95L930.24,94.05L930.84,92.24L931.42,90.54L931.98,88.96L932.50,87.50L932.99,86.18L933.45,84.99L933.88,83.91L934.29,82.95L934.68,82.08L935.05,81.29L935.41,80.57L935.77,79.91L936.12,79.29L936.47,78.71L936.83,78.15L937.20,77.60L937.57,77.07L937.94,76.60L938.30,76.17L938.66,75.79L939.01,75.45L939.37,75.16L939.72,74.92L940.07,74.71L940.43,74.55L940.78,74.43L941.14,74.34L941.50,73.80L942.00,73.83L942.50,73.92L943.00,74.06L943.50,74.26L944.00,74.52L944.50,74.84L945.00,75.22L945.50,75.65L946.00,76.14L946.50,76.70L947.00,77.31L947.50,77.97L948.00,78.70L948.50,79.48L949.00,80.32L949.50,81.22L950.00,82.18L950.50,83.19L951.00,84.26L951.50,85.39L952.00,86.57L952.50,87.81L953.00,89.10L953.50,90.45L954.00,91.85L954.50,93.30L955.00,94.81L955.50,96.37L956.00,97.98L956.50,99.64L957.00,101.36L957.50,103.12L958.00,104.93L958.50,106.79L959.00,108.69L959.50,110.64L960.00,112.64L960.50,114.68L961.00,116.76L961.50,118.88L962.00,121.05L962.50,123.26L963.00,125.50L963.50,127.79L964.00,130.11L964.50,132.47L965.00,134.86L965.50,137.29L966.00,139.75L966.50,142.25L967.00,144.90L967.50,147.59L968.00,150.32L968.50,153.09L969.00,155.89L969.50,158.72L970.00,161.58L970.50,164.48L971.00,167.40L971.50,170.35L972.00,173.33L972.50,176.33L973.00,179.36L973.50,182.40L974.00,185.47L974.50,188.56L975.00,191.66L975.50,194.78L976.00,197.92L976.50,201.07L977.00,204.22L977.50,207.39L978.00,210.57L978.50,213.75L979.00,216.94L979.50,220.13L980.00,223.32L980.50,226.67L981.00,230.02L981.50,233.38L982.00,236.73L982.50,240.08L983.00,243.43L983.50,246.76L984.00,250.09L984.50,253.41L985.00,256.72L985.50,260.01L986.00,263.29L986.50,266.55L987.00,269.79L987.50,273.00L988.00,276.20L988.50,279.37L989.00,282.51L989.50,285.63L990.00,288.72L990.50,291.77L991.00,294.80L991.50,297.78L992.00,300.74L992.50,303.65L993.00,306.71L993.50,309.73L994.00,312.70L994.50,315.63L995.00,318.51L995.50,321.35L996.00,324.14L996.50,326.87L997.00,329.56L997.50,332.19L998.00,334.77L998.50,337.29L999.00,339.76L999.50,342.16L1000.00,344.52L1000.50,346.73L1001.00,348.89L1001.50,350.99L1002.00,353.03L1002.50,355.02L1003.00,356.94L1003.50,358.82L1004.00,360.63L1004.50,362.39L1005.00,364.09L1005.50,365.74L1006.00,367.33L1006.50,368.86L1007.00,370.46L1007.50,372.01L1008.00,373.49L1008.50,374.91L1009.00,376.27L1009.50,377.57L1010.00,378.81L1010.50,379.99L1011.00,381.11L1011.50,382.18L1012.00,383.20L1012.50,384.16L1013.00,385.07L1013.50,385.93L1014.00,386.65L1014.50,387.33L1015.00,387.97L1015.50,388.58L1016.00,389.15L1016.50,389.69L1017.00,390.20L1017.50,390.68L1018.00,391.13L1018.50,391.55L1019.00,391.94L1019.50,392.31L1020.00,392.65L1020.50,392.95L1021.00,393.23L1021.50,393.50L1022.00,393.74L1022.50,393.97L1023.00,394.18L1023.50,394.37L1024.00,394.55L1024.50,394.72L1025.00,394.87L1025.50,395.02L1026.00,395.15L1026.50,395.27L1027.00,395.38L1027.50,395.48L1028.00,395.57L1028.50,395.65L1029.00,395.73L1029.50,395.80L1030.00,395.86L1030.50,395.92L1031.00,395.97L1031.50,396.02L1032.00,396.05L1032.50,396.08L1033.00,396.11L1033.50,396.14L1034.00,396.16L1034.50,396.18L1035.00,396.20L1035.50,396.22L1036.00,396.23L1036.50,396.25L1037.00,396.26L1037.50,396.28L1038.00,396.29L1038.50,396.30L1039.00,396.31L1039.50,396.32L1040.00,396.33L1040.50,396.33L1041.00,396.34L1041.50,396.35L1042.00,396.35L1042.50,396.36L1043.00,396.36L1043.50,396.36L1044.00,396.37L1044.50,396.37L1045.00,396.37L1045.50,396.38L1046.00,396.38L1046.50,396.38L1047.00,396.38L1047.50,396.39L1048.00,396.39L1048.50,396.39L1049.00,396.39L1049.50,396.39L1050.00,396.39L1050.50,396.39L1051.00,396.39L1051.50,396.39L1052.00,396.40L1052.50,396.40L1053.00,396.40L1053.50,396.40L1054.00,396.40L1054.50,396.40L1055.00,396.40L1055.50,396.40L1056.00,396.40L1056.50,396.40L1057.00,396.40L1057.50,396.40L1058.00,396.40L1058.50,396.40L1059.00,396.40L1059.50,396.40L1060.00,396.40L1060.50,396.40L1061.00,396.40L1061.50,396.40L1062.00,396.40L1062.50,396.40L1063.00,396.40L1063.50,396.40L1064.00,396.40L1064.50,396.40L1065.00,396.40L1065.50,396.40L1066.00,396.40L1066.50,396.40L1067.00,396.40L1067.50,396.40L1068.00,396.40L1068.50,396.40L1069.00,396.40L1069.50,396.40L1070.00,396.40L1070.50,396.40L1071.00,396.40L1071.50,396.40L1072.00,396.40L1072.50,396.40L1073.00,396.40L1073.50,396.40L1074.00,396.40L1074.50,396.40L1075.00,396.40L1075.50,396.40L1076.00,396.40L1076.50,396.40L1077.00,396.40L1077.50,396.40L1078.00,396.40L1078.50,396.40L1079.00,396.40L1079.50,396.40L1080.00,396.40L1080.50,396.40L1081.00,396.40L1081.50,396.40L1082.00,396.40L1082.50,396.40L1083.00,396.40L1083.50,396.40L1084.00,396.40L1084.50,396.40L1085.00,396.40L1085.50,396.40L1086.00,396.40L1086.50,396.40L1087.00,396.40L1087.50,396.40L1088.00,396.40L1088.50,396.40L1089.00,396.40L1089.50,396.40L1090.00,396.40L1090.50,396.40L1091.00,396.40L1091.50,396.40L1092.00,396.40L1092.50,396.40L1093.00,396.40L1093.50,396.40L1094.00,396.40L1094.50,396.40L1095.00,396.40" stroke="#E62A16" stroke-width="3.3"/>
<path d="M671.00,396.19L671.50,396.19L672.00,396.18L672.50,396.18L673.00,396.18L673.50,396.18L674.00,396.18L674.50,396.18L675.00,396.18L675.50,396.18L676.00,396.18L676.50,396.18L677.00,396.17L677.50,396.17L678.00,396.17L678.50,396.17L679.00,396.17L679.50,396.17L680.00,396.17L680.50,396.16L681.00,396.16L681.50,396.16L682.00,396.16L682.50,396.16L683.00,396.16L683.50,396.15L684.00,396.15L684.50,396.15L685.00,396.15L685.50,396.14L686.00,396.14L686.50,396.14L687.00,396.14L687.50,396.13L688.00,396.13L688.50,396.13L689.00,396.12L689.50,396.12L690.00,396.12L690.50,396.11L691.00,396.11L691.50,396.10L692.00,396.10L692.50,396.09L693.00,396.09L693.50,396.08L694.00,396.08L694.50,396.07L695.00,396.07L695.50,396.06L696.00,396.06L696.50,396.05L697.00,396.04L697.50,396.04L698.00,396.03L698.50,396.02L699.00,396.01L699.50,396.01L700.00,396.00L700.50,395.99L701.00,395.98L701.50,395.97L702.00,395.96L702.50,395.95L703.00,395.94L703.50,395.93L704.00,395.92L704.50,395.91L705.00,395.89L705.50,395.88L706.00,395.87L706.50,395.85L707.00,395.84L707.50,395.82L708.00,395.81L708.50,395.79L709.00,395.78L709.50,395.76L710.00,395.74L710.50,395.72L711.00,395.70L711.50,395.68L712.00,395.66L712.50,395.64L713.00,395.62L713.50,395.59L714.00,395.57L714.50,395.54L715.00,395.52L715.50,395.49L716.00,395.46L716.50,395.43L717.00,395.40L717.50,395.37L718.00,395.34L718.50,395.31L719.00,395.27L719.50,395.24L720.00,395.20L720.50,395.16L721.00,395.12L721.50,395.08L722.00,395.04L722.50,395.00L723.00,394.95L723.50,394.91L724.00,394.86L724.50,394.81L725.00,394.76L725.50,394.70L726.00,394.65L726.50,394.59L727.00,394.53L727.50,394.47L728.00,394.41L728.50,394.34L729.00,394.28L729.50,394.21L730.00,394.14L730.50,394.06L731.00,393.99L731.50,393.91L732.00,393.83L732.50,393.74L733.00,393.66L733.50,393.57L734.00,393.48L734.50,393.38L735.00,393.29L735.50,393.19L736.00,393.08L736.50,392.98L737.00,392.87L737.50,392.75L738.00,392.64L738.50,392.52L739.00,392.39L739.50,392.27L740.00,392.14L740.50,392.00L741.00,391.86L741.50,391.72L742.00,391.57L742.50,391.42L743.00,391.27L743.50,391.11L744.00,390.94L744.50,390.78L745.00,390.60L745.50,390.42L746.00,390.24L746.50,390.05L747.00,389.86L747.50,389.66L748.00,389.46L748.50,389.25L749.00,389.03L749.50,388.81L750.00,388.58L750.50,388.35L751.00,388.11L751.50,387.86L752.00,387.61L752.50,387.35L753.00,387.09L753.50,386.81L754.00,386.54L754.50,386.25L755.00,385.96L755.50,385.66L756.00,385.35L756.50,385.03L757.00,384.71L757.50,384.38L758.00,384.04L758.50,383.69L759.00,383.33L759.50,382.97L760.00,382.59L760.50,382.21L761.00,381.82L761.50,381.42L762.00,381.01L762.50,380.59L763.00,380.16L763.50,379.72L764.00,379.27L764.50,378.82L765.00,378.35L765.50,377.87L766.00,377.38L766.50,376.88L767.00,376.37L767.50,375.84L768.00,375.31L768.50,374.76L769.00,374.21L769.50,373.64L770.00,373.06L770.50,372.47L771.00,371.86L771.50,371.24L772.00,370.61L772.50,369.97L773.00,369.32L773.50,368.65L774.00,367.97L774.50,367.27L775.00,366.56L775.50,365.84L776.00,365.11L776.50,364.36L777.00,363.59L777.50,362.82L778.00,362.02L778.50,361.22L779.00,360.40L779.50,359.56L780.00,358.71L780.50,357.84L781.00,356.96L781.50,356.06L782.00,355.15L782.50,354.22L783.00,353.28L783.50,352.32L784.00,351.34L784.50,350.35L785.00,349.35L785.50,348.32L786.00,347.28L786.50,346.22L787.00,345.15L787.50,344.06L788.00,342.95L788.50,341.83L789.00,340.69L789.50,339.53L790.00,338.35L790.50,337.16L791.00,335.95L791.50,334.72L792.00,333.48L792.50,332.22L793.00,330.94L793.50,329.64L794.00,328.33L794.50,326.99L795.00,325.65L795.50,324.28L796.00,322.89L796.50,321.49L797.00,320.07L797.50,318.64L798.00,317.18L798.50,315.71L799.00,314.22L799.50,312.71L800.00,311.19L800.50,309.65L801.00,308.09L801.50,306.51L802.00,304.92L802.50,303.31L803.00,301.68L803.50,300.04L804.00,298.38L804.50,296.70L805.00,295.01L805.50,293.30L806.00,291.58L806.50,289.83L807.00,288.08L807.50,286.30L808.00,284.52L808.50,282.71L809.00,280.89L809.50,279.06L810.00,277.21L810.50,275.35L811.00,273.47L811.50,271.58L812.00,269.68L812.50,267.76L813.00,265.83L813.50,263.88L814.00,261.93L814.50,259.96L815.00,257.98L815.50,255.98L816.00,253.98L816.50,251.96L817.00,249.94L817.50,247.90L818.00,245.85L818.50,243.80L819.00,241.73L819.50,239.66L820.00,237.58L820.50,235.48L821.00,233.39L821.50,231.28L822.00,229.17L822.50,227.05L823.00,224.92L823.50,222.79L824.00,220.65L824.50,218.51L825.00,216.37L825.50,214.22L826.00,212.07L826.50,209.91L827.00,207.76L827.50,205.60L828.00,203.44L828.50,201.28L829.00,199.12L829.50,196.95L830.00,194.79L830.50,192.64L831.00,190.48L831.50,188.33L832.00,186.17L832.50,184.03L833.00,181.88L833.50,179.75L834.00,177.61L834.50,175.49L835.00,173.36L835.50,171.25L836.00,169.14L836.50,167.05L837.00,164.96L837.50,162.88L838.00,160.81L838.50,158.75L839.00,156.70L839.50,154.66L840.00,152.64L840.50,150.63L841.00,148.63L841.50,146.65L842.00,144.68L842.50,142.72L843.00,140.79L843.50,138.87L844.00,136.96L844.50,135.08L845.00,133.21L845.50,131.36L846.00,129.53L846.50,127.72L847.00,125.93L847.50,124.17L848.00,122.42L848.50,120.70L849.00,119.00L849.50,117.32L850.00,115.67L850.50,114.04L851.00,112.44L851.50,110.86L852.00,109.31L852.50,107.78L853.00,106.29L853.50,104.82L854.00,103.38L854.50,101.96L855.00,100.58L855.50,99.23L856.00,97.90L856.50,96.61L857.00,95.35L857.50,94.12L858.00,92.92L858.50,91.75L859.00,90.62L859.50,89.52L860.00,88.45L860.50,87.42L861.00,86.42L861.50,85.46L862.00,84.53L862.50,83.64L863.00,82.78L863.50,81.96L864.00,81.17L864.50,80.42L865.00,79.71L865.50,79.03L866.00,78.39L866.50,77.79L867.00,77.23L867.50,76.71L868.00,76.22L868.50,75.77L869.00,75.36L869.50,74.99L870.00,74.66L870.50,74.36L871.00,74.11L871.50,73.89L872.00,73.71L872.50,73.58L873.00,73.48L873.50,73.42L874.00,73.40L874.50,73.42L875.00,73.47L875.50,73.57L876.00,73.70L876.50,73.87L877.00,74.07L877.50,74.31L878.00,74.59L878.50,74.91L879.00,75.26L879.50,75.65L880.00,76.08L880.50,76.54L881.00,77.04L881.50,77.57L882.00,78.14L882.50,78.75L883.00,79.39L883.50,80.07L884.00,80.78L884.50,81.53L885.00,82.31L885.50,83.12L886.00,83.97L886.50,84.86L887.00,85.77L887.50,86.72L888.00,87.70L888.50,88.72L889.00,89.77L889.50,90.85L890.00,91.96L890.50,93.10L891.00,94.27L891.50,95.47L892.00,96.70L892.50,97.96L893.00,99.25L893.50,100.57L894.00,101.92L894.50,103.29L895.00,104.70L895.50,106.13L896.00,107.58L896.50,109.06L897.00,110.57L897.50,112.10L898.00,113.66L898.50,115.24L899.00,116.84L899.50,118.47L900.00,120.12L900.50,121.79L901.00,123.48L901.50,125.19L902.00,126.93L902.50,128.68L903.00,130.45L903.50,132.25L904.00,134.06L904.50,135.88L905.00,137.73L905.50,139.59L906.00,141.47L906.50,143.36L907.00,145.27L907.50,147.19L908.00,149.13L908.50,151.08L909.00,153.04L909.50,155.02L910.00,157.00L910.50,159.00L911.00,161.01L911.50,163.03L912.00,165.05L912.50,167.09L913.00,169.14L913.50,171.19L914.00,173.25L914.50,175.32L915.00,177.39L915.50,179.47L916.00,181.55L916.50,183.64L917.00,185.73L917.50,187.83L918.00,189.93L918.50,192.03L919.00,194.14L919.50,196.24L920.00,198.35L920.50,200.46L921.00,202.57L921.50,204.67L922.00,206.78L922.50,208.89L923.00,210.99L923.50,213.09L924.00,215.19L924.50,217.29L925.00,219.38L925.50,221.47L926.00,223.55L926.50,225.63L927.00,227.71L927.50,229.78L928.00,231.84L928.50,233.90L929.00,235.95L929.50,237.99L930.00,240.03L930.50,242.06L931.00,244.08L931.50,246.09L932.00,248.09L932.50,250.09L933.00,252.07L933.50,254.05L934.00,256.02L934.50,257.97L935.00,259.92L935.50,261.85L936.00,263.78L936.50,265.69L937.00,267.59L937.50,269.48L938.00,271.36L938.50,273.23L939.00,275.08L939.50,276.93L940.00,278.76L940.50,280.58L941.00,282.38L941.50,284.17L942.00,285.95L942.50,287.72L943.00,289.47L943.50,291.21L944.00,292.94L944.50,294.66L945.00,296.36L945.50,298.04L946.00,299.72L946.50,301.38L947.00,303.03L947.50,304.66L948.00,306.28L948.50,307.89L949.00,309.48L949.50,311.07L950.00,312.63L950.50,314.19L951.00,315.73L951.50,317.26L952.00,318.78L952.50,320.28L953.00,321.78L953.50,323.26L954.00,324.72L954.50,326.18L955.00,327.62L955.50,329.06L956.00,330.48L956.50,331.89L957.00,333.29L957.50,334.67L958.00,336.05L958.50,337.42L959.00,338.78L959.50,340.12L960.00,341.46L960.50,342.78L961.00,344.10L961.50,345.41L962.00,346.71L962.50,348.00L963.00,349.28L963.50,350.55L964.00,351.81L964.50,353.06L965.00,354.30L965.50,355.54L966.00,356.76L966.50,357.98L967.00,359.18L967.50,360.38L968.00,361.56L968.50,362.73L969.00,363.89L969.50,365.04L970.00,366.18L970.50,367.30L971.00,368.42L971.50,369.51L972.00,370.59L972.50,371.66L973.00,372.70L973.50,373.73L974.00,374.74L974.50,375.73L975.00,376.70L975.50,377.65L976.00,378.57L976.50,379.47L977.00,380.35L977.50,381.20L978.00,382.02L978.50,382.82L979.00,383.59L979.50,384.33L980.00,385.05L980.50,385.73L981.00,386.39L981.50,387.02L982.00,387.62L982.50,388.19L983.00,388.73L983.50,389.25L984.00,389.74L984.50,390.20L985.00,390.63L985.50,391.04L986.00,391.43L986.50,391.79L987.00,392.13L987.50,392.44L988.00,392.74L988.50,393.01L989.00,393.27L989.50,393.51L990.00,393.73L990.50,393.93L991.00,394.12L991.50,394.30L992.00,394.46L992.50,394.61L993.00,394.74L993.50,394.87L994.00,394.99L994.50,395.09L995.00,395.19L995.50,395.28L996.00,395.36L996.50,395.44L997.00,395.51L997.50,395.57L998.00,395.63L998.50,395.68L999.00,395.73L999.50,395.77L1000.00,395.81L1000.50,395.85L1001.00,395.88L1001.50,395.91L1002.00,395.94L1002.50,395.96L1003.00,395.98L1003.50,396.00L1004.00,396.02L1004.50,396.04L1005.00,396.05L1005.50,396.07L1006.00,396.08L1006.50,396.09L1007.00,396.10L1007.50,396.11L1008.00,396.12L1008.50,396.13L1009.00,396.14L1009.50,396.14L1010.00,396.15L1010.50,396.15L1011.00,396.16L1011.50,396.16L1012.00,396.16L1012.50,396.17L1013.00,396.17L1013.50,396.17L1014.00,396.18L1014.50,396.18L1015.00,396.18L1015.50,396.18L1016.00,396.18L1016.50,396.19L1017.00,396.19L1017.50,396.19L1018.00,396.19L1018.50,396.19L1019.00,396.19L1019.50,396.19L1020.00,396.19L1020.50,396.19L1021.00,396.19L1021.50,396.20L1022.00,396.20L1022.50,396.20L1023.00,396.20L1023.50,396.20L1024.00,396.20L1024.50,396.20L1025.00,396.20L1025.50,396.20L1026.00,396.20L1026.50,396.20L1027.00,396.20L1027.50,396.20L1028.00,396.20L1028.50,396.20L1029.00,396.20L1029.50,396.20L1030.00,396.20L1030.50,396.20L1031.00,396.20L1031.50,396.20L1032.00,396.20L1032.50,396.20L1033.00,396.20L1033.50,396.20L1034.00,396.20L1034.50,396.20L1035.00,396.20L1035.50,396.20L1036.00,396.20L1036.50,396.20L1037.00,396.20L1037.50,396.20L1038.00,396.20L1038.50,396.20L1039.00,396.20L1039.50,396.20L1040.00,396.20L1040.50,396.20L1041.00,396.20L1041.50,396.20L1042.00,396.20L1042.50,396.20L1043.00,396.20L1043.50,396.20L1044.00,396.20L1044.50,396.20L1045.00,396.20L1045.50,396.20L1046.00,396.20L1046.50,396.20L1047.00,396.20L1047.50,396.20L1048.00,396.20L1048.50,396.20L1049.00,396.20L1049.50,396.20L1050.00,396.20L1050.50,396.20L1051.00,396.20L1051.50,396.20L1052.00,396.20L1052.50,396.20L1053.00,396.20L1053.50,396.20L1054.00,396.20L1054.50,396.20L1055.00,396.20L1055.50,396.20L1056.00,396.20L1056.50,396.20L1057.00,396.20L1057.50,396.20L1058.00,396.20L1058.50,396.20L1059.00,396.20L1059.50,396.20L1060.00,396.20L1060.50,396.20L1061.00,396.20L1061.50,396.20L1062.00,396.20L1062.50,396.20L1063.00,396.20L1063.50,396.20L1064.00,396.20L1064.50,396.20L1065.00,396.20L1065.50,396.20L1066.00,396.20L1066.50,396.20L1067.00,396.20L1067.50,396.20L1068.00,396.20L1068.50,396.20L1069.00,396.20L1069.50,396.20L1070.00,396.20L1070.50,396.20L1071.00,396.20L1071.50,396.20L1072.00,396.20L1072.50,396.20L1073.00,396.20L1073.50,396.20L1074.00,396.20L1074.50,396.20L1075.00,396.20L1075.50,396.20L1076.00,396.20L1076.50,396.20L1077.00,396.20L1077.50,396.20L1078.00,396.20L1078.50,396.20L1079.00,396.20L1079.50,396.20L1080.00,396.20L1080.50,396.20L1081.00,396.20L1081.50,396.20L1082.00,396.20L1082.50,396.20L1083.00,396.20L1083.50,396.20L1084.00,396.20L1084.50,396.20L1085.00,396.20L1085.50,396.20L1086.00,396.20L1086.50,396.20L1087.00,396.20L1087.50,396.20L1088.00,396.20L1088.50,396.20L1089.00,396.20L1089.50,396.20L1090.00,396.20L1090.50,396.20L1091.00,396.20L1091.50,396.20L1092.00,396.20L1092.50,396.20L1093.00,396.20L1093.50,396.20L1094.00,396.20L1094.50,396.20L1095.00,396.20" stroke="#0000F8" stroke-width="3.3"/>
<path d="M958.00,396.49L958.25,396.49L958.50,396.48L958.75,396.48L959.00,396.47L959.25,396.45L959.50,396.43L959.75,396.40L960.00,396.36L960.25,396.30L960.50,396.21L960.75,396.10L961.00,395.95L961.25,395.75L961.50,395.48L961.75,395.12L962.00,394.66L962.25,394.05L962.50,393.28L962.75,392.29L963.00,391.05L963.25,389.50L963.50,387.57L963.75,385.20L964.00,382.32L964.25,378.84L964.50,374.69L964.75,369.77L965.00,364.00L965.25,357.31L965.50,349.61L965.75,340.84L966.00,330.96L966.25,319.94L966.50,307.77L966.75,294.49L967.00,280.15L967.25,264.84L967.50,248.71L967.75,231.92L968.00,214.67L968.25,197.22L968.50,179.82L968.75,162.77L969.00,146.38L969.25,130.97L969.50,116.85L969.75,104.32L970.00,93.64L970.25,85.07L970.50,78.81L970.75,74.98L971.00,73.70L971.25,74.98L971.50,78.81L971.75,85.07L972.00,93.64L972.25,104.32L972.50,116.85L972.75,130.97L973.00,146.38L973.25,162.77L973.50,179.82L973.75,197.22L974.00,214.67L974.25,231.92L974.50,248.71L974.75,264.84L975.00,280.15L975.25,294.49L975.50,307.77L975.75,319.94L976.00,330.96L976.25,340.84L976.50,349.61L976.75,357.31L977.00,364.00L977.25,369.77L977.50,374.69L977.75,378.84L978.00,382.32L978.25,385.20L978.50,387.57L978.75,389.50L979.00,391.05L979.25,392.29L979.50,393.28L979.75,394.05L980.00,394.66L980.25,395.12L980.50,395.48L980.75,395.75L981.00,395.95L981.25,396.10L981.50,396.21L981.75,396.30L982.00,396.36L982.25,396.40L982.50,396.43L982.75,396.45L983.00,396.47L983.25,396.48L983.50,396.48L983.75,396.49L984.00,396.49" stroke="#38841F" stroke-width="3.3" stroke-opacity="0.95"/>
<path d="M947.00,396.50L947.25,396.50L947.50,396.50L947.75,396.50L948.00,396.50L948.25,396.50L948.50,396.49L948.75,396.49L949.00,396.49L949.25,396.49L949.50,396.48L949.75,396.48L950.00,396.47L950.25,396.47L950.50,396.46L950.75,396.45L951.00,396.44L951.25,396.42L951.50,396.40L951.75,396.38L952.00,396.35L952.25,396.31L952.50,396.27L952.75,396.21L953.00,396.15L953.25,396.07L953.50,395.98L953.75,395.87L954.00,395.74L954.25,395.58L954.50,395.39L954.75,395.17L955.00,394.92L955.25,394.61L955.50,394.25L955.75,393.84L956.00,393.36L956.25,392.80L956.50,392.15L956.75,391.40L957.00,390.55L957.25,389.57L957.50,388.46L957.75,387.19L958.00,385.76L958.25,384.14L958.50,382.32L958.75,380.28L959.00,378.00L959.25,375.46L959.50,372.65L959.75,369.54L960.00,366.11L960.25,362.35L960.50,358.24L960.75,353.76L961.00,348.89L961.25,343.63L961.50,337.95L961.75,331.87L962.00,325.35L962.25,318.42L962.50,311.05L962.75,303.28L963.00,295.09L963.25,286.51L963.50,277.55L963.75,268.25L964.00,258.62L964.25,248.71L964.50,238.56L964.75,228.20L965.00,217.70L965.25,207.09L965.50,196.46L965.75,185.84L966.00,175.32L966.25,164.96L966.50,154.83L966.75,145.00L967.00,135.54L967.25,126.52L967.50,118.02L967.75,110.09L968.00,102.81L968.25,96.23L968.50,90.41L968.75,85.40L969.00,81.24L969.25,77.96L969.50,75.60L969.75,74.18L970.00,73.70L970.25,74.18L970.50,75.60L970.75,77.96L971.00,81.24L971.25,85.40L971.50,90.41L971.75,96.23L972.00,102.81L972.25,110.09L972.50,118.02L972.75,126.52L973.00,135.54L973.25,145.00L973.50,154.83L973.75,164.96L974.00,175.32L974.25,185.84L974.50,196.46L974.75,207.09L975.00,217.70L975.25,228.20L975.50,238.56L975.75,248.71L976.00,258.62L976.25,268.25L976.50,277.55L976.75,286.51L977.00,295.09L977.25,303.28L977.50,311.05L977.75,318.42L978.00,325.35L978.25,331.87L978.50,337.95L978.75,343.63L979.00,348.89L979.25,353.76L979.50,358.24L979.75,362.35L980.00,366.11L980.25,369.54L980.50,372.65L980.75,375.46L981.00,378.00L981.25,380.28L981.50,382.32L981.75,384.14L982.00,385.76L982.25,387.19L982.50,388.46L982.75,389.57L983.00,390.55L983.25,391.40L983.50,392.15L983.75,392.80L984.00,393.36L984.25,393.84L984.50,394.25L984.75,394.61L985.00,394.92L985.25,395.17L985.50,395.39L985.75,395.58L986.00,395.74L986.25,395.87L986.50,395.98L986.75,396.07L987.00,396.15L987.25,396.21L987.50,396.27L987.75,396.31L988.00,396.35L988.25,396.38L988.50,396.40L988.75,396.42L989.00,396.44" stroke="#F0AA3C" stroke-width="3.2" stroke-dasharray="9.5 7.2"/>
</g>
<rect x="671.0" y="42.0" width="424.0" height="355.1" fill="none" stroke="#1a1a1a" stroke-width="1.45"/>
<line x1="731.6" y1="397.1" x2="731.6" y2="403.1" stroke="#1a1a1a" stroke-width="1.45"/>
<text x="730.8" y="422.7" font-size="18.0" text-anchor="middle">−0.2</text>
<line x1="852.7" y1="397.1" x2="852.7" y2="403.1" stroke="#1a1a1a" stroke-width="1.45"/>
<text x="851.9" y="422.7" font-size="18.0" text-anchor="middle">−0.1</text>
<line x1="973.9" y1="397.1" x2="973.9" y2="403.1" stroke="#1a1a1a" stroke-width="1.45"/>
<text x="973.1" y="422.7" font-size="18.0" text-anchor="middle">0.0</text>
<line x1="1095.0" y1="397.1" x2="1095.0" y2="403.1" stroke="#1a1a1a" stroke-width="1.45"/>
<text x="1094.2" y="422.7" font-size="18.0" text-anchor="middle">0.1</text>
<line x1="665.0" y1="397.1" x2="671.0" y2="397.1" stroke="#1a1a1a" stroke-width="1.45"/>
<text x="657.8" y="402.6" font-size="18.0" text-anchor="end">0.0</text>
<line x1="665.0" y1="332.5" x2="671.0" y2="332.5" stroke="#1a1a1a" stroke-width="1.45"/>
<text x="657.8" y="338.0" font-size="18.0" text-anchor="end">0.2</text>
<line x1="665.0" y1="268.0" x2="671.0" y2="268.0" stroke="#1a1a1a" stroke-width="1.45"/>
<text x="657.8" y="273.5" font-size="18.0" text-anchor="end">0.4</text>
<line x1="665.0" y1="203.4" x2="671.0" y2="203.4" stroke="#1a1a1a" stroke-width="1.45"/>
<text x="657.8" y="208.9" font-size="18.0" text-anchor="end">0.6</text>
<line x1="665.0" y1="138.8" x2="671.0" y2="138.8" stroke="#1a1a1a" stroke-width="1.45"/>
<text x="657.8" y="144.3" font-size="18.0" text-anchor="end">0.8</text>
<line x1="665.0" y1="74.3" x2="671.0" y2="74.3" stroke="#1a1a1a" stroke-width="1.45"/>
<text x="657.8" y="79.8" font-size="18.0" text-anchor="end">1.0</text>
<text x="860.6" y="456.7" font-size="21.5"><tspan font-style="italic">w</tspan></text><text x="878.6" y="460.3" font-size="15.9">dm</text>
<text transform="translate(617.4,245.0) rotate(-90)" font-size="16.4" font-style="italic">P/P<tspan font-size="11.5" dy="2.6">max</tspan></text>
</svg></body></html>
